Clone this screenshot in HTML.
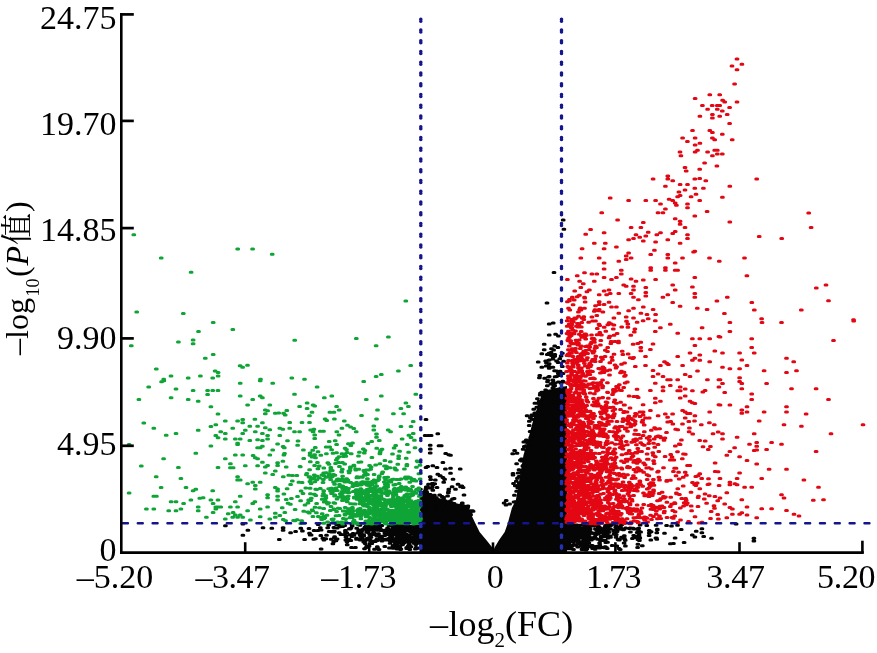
<!DOCTYPE html>
<html><head><meta charset="utf-8"><title>Volcano plot</title>
<style>html,body{margin:0;padding:0;background:#fff;overflow:hidden}svg{display:block}</style></head>
<body><svg width="877" height="653" viewBox="0 0 877 653">
<rect width="877" height="653" fill="#fff"/>
<path d="M493.5 552 L494.3 548 L499.1 540 L504.7 532 L507.9 523 L511.9 508 L515.9 500 L518.5 485 L521 470 L523.5 455 L528 440 L533 421 L538 405 L541.5 395 L548 390 L556 388 L567 386 L567 552Z M419.5 552 L419.5 490 L435 497 L450 502 L462 507 L470 512 L475.2 523 L479.6 532 L486.3 540 L492.7 548 L493.5 552Z" fill="#050505"/>
<g fill="none" stroke-linecap="round" stroke-width="3.0">
<path stroke="#050505" d="M546.1 302.9h1.8M548.3 324.1h1.8M552.3 323.1h1.8M548.3 335.1h1.8M554.7 334.2h1.8M557.5 336.0h1.8M543.3 344.3h1.8M553.8 346.1h1.8M543.3 349.8h1.8M546.4 354.4h1.8M550.1 352.6h1.8M553.8 356.3h1.8M548.3 359.9h1.8M552.0 359.0h1.8M545.5 362.7h1.8M540.9 367.3h1.8M548.3 368.2h1.8M552.0 367.3h1.8M555.6 371.0h1.8M543.7 378.3h1.8M548.3 376.5h1.8M552.0 380.2h1.8M555.6 376.5h1.8M546.4 385.7h1.8M550.1 383.9h1.8M553.8 385.7h1.8M557.5 382.0h1.8M540.9 392.2h1.8M548.3 391.2h1.8M552.0 393.1h1.8M555.6 390.3h1.8M538.2 401.4h1.8M546.4 398.6h1.8M550.1 400.4h1.8M553.8 402.3h1.8M557.5 398.6h1.8M562.3 220.1h1.8M563.0 229.3h1.8M553.1 272.5h1.8M224.5 525.7h1.8M242.0 523.9h1.8M242.0 535.2h1.8M247.0 530.2h1.8M262.1 527.7h1.8M270.9 528.2h1.8M278.4 539.5h1.8M282.2 527.7h1.8M289.7 532.7h1.8M294.7 531.4h1.8M282.2 530.2h1.8M710.6 538.3h1.8M753.0 538.3h1.8M753.0 541.1h1.8M735.2 524.1h1.8M701.0 528.7h1.8M701.0 532.8h1.8M691.4 535.0h1.8M683.2 542.4h1.8M669.5 543.8h1.8M313.2 530.6h1.8M308.1 528.6h1.8M299.9 528.2h1.8M301.5 530.9h1.8M319.4 527.7h1.8M328.3 531.6h1.8M327.8 525.1h1.8M320.2 530.0h1.8M317.3 524.6h1.8M326.8 527.8h1.8M317.0 530.6h1.8M330.0 531.4h1.8M337.2 524.8h1.8M333.2 532.0h1.8M351.3 526.1h1.8M333.5 531.2h1.8M349.0 528.9h1.8M333.0 527.6h1.8M357.5 524.5h1.8M341.7 524.9h1.8M359.0 525.3h1.8M357.7 530.8h1.8M351.1 524.8h1.8M350.0 528.2h1.8M343.8 525.6h1.8M344.5 530.5h1.8M333.0 531.1h1.8M341.7 526.5h1.8M336.3 527.9h1.8M348.5 528.8h1.8M355.8 528.3h1.8M344.5 531.9h1.8M335.6 524.6h1.8M339.0 526.8h1.8M371.6 524.8h1.8M386.7 528.1h1.8M385.5 529.7h1.8M381.0 530.2h1.8M368.1 530.0h1.8M365.3 528.7h1.8M377.0 530.3h1.8M364.1 527.1h1.8M383.8 530.5h1.8M388.4 525.4h1.8M365.4 525.3h1.8M380.8 530.1h1.8M378.5 530.3h1.8M374.6 528.7h1.8M386.7 529.4h1.8M378.8 528.9h1.8M373.9 530.2h1.8M376.3 525.5h1.8M371.9 527.7h1.8M372.1 528.7h1.8M370.0 527.4h1.8M371.9 527.3h1.8M388.3 525.2h1.8M359.6 529.9h1.8M371.0 527.9h1.8M376.9 527.3h1.8M366.3 524.6h1.8M385.3 531.5h1.8M367.7 528.0h1.8M368.8 524.9h1.8M385.9 530.8h1.8M366.3 526.4h1.8M380.0 530.5h1.8M373.2 527.4h1.8M366.1 530.5h1.8M385.0 530.9h1.8M362.5 529.0h1.8M388.7 529.9h1.8M372.9 525.6h1.8M360.9 530.0h1.8M361.2 530.6h1.8M379.1 528.1h1.8M385.8 531.5h1.8M377.6 525.2h1.8M376.8 527.7h1.8M366.6 531.5h1.8M381.0 525.4h1.8M366.0 527.1h1.8M376.3 526.9h1.8M372.3 530.6h1.8M411.4 527.0h1.8M418.4 531.6h1.8M399.3 529.0h1.8M392.5 527.6h1.8M408.4 529.3h1.8M399.7 524.8h1.8M393.0 528.7h1.8M394.4 526.8h1.8M408.3 531.3h1.8M405.1 526.4h1.8M407.3 526.6h1.8M413.4 525.7h1.8M397.2 527.8h1.8M417.3 525.7h1.8M395.1 525.5h1.8M395.7 527.0h1.8M401.3 530.2h1.8M401.6 528.1h1.8M401.4 530.3h1.8M417.1 527.7h1.8M417.7 526.4h1.8M419.4 528.4h1.8M410.2 527.4h1.8M397.5 525.5h1.8M416.5 527.2h1.8M410.8 528.0h1.8M405.4 526.1h1.8M394.6 527.0h1.8M410.2 528.6h1.8M389.2 529.8h1.8M402.5 525.0h1.8M397.2 526.1h1.8M414.6 528.6h1.8M399.2 526.4h1.8M398.1 526.6h1.8M399.8 530.4h1.8M413.5 529.7h1.8M416.5 529.4h1.8M392.6 524.8h1.8M394.2 526.4h1.8M405.5 530.7h1.8M407.3 527.7h1.8M396.6 531.9h1.8M412.5 527.1h1.8M390.5 531.9h1.8M397.0 530.9h1.8M392.7 529.4h1.8M400.1 531.2h1.8M398.3 525.3h1.8M395.3 530.5h1.8M419.4 529.3h1.8M410.2 526.6h1.8M397.5 525.2h1.8M419.6 524.8h1.8M408.1 527.1h1.8M394.9 527.8h1.8M418.0 526.4h1.8M394.2 529.2h1.8M409.5 528.3h1.8M394.7 531.1h1.8M392.5 525.8h1.8M396.6 528.4h1.8M403.9 528.7h1.8M411.6 531.2h1.8M403.6 524.8h1.8M414.9 524.6h1.8M399.0 525.6h1.8M407.8 530.4h1.8M393.1 526.7h1.8M415.5 529.7h1.8M392.5 529.6h1.8M413.7 527.6h1.8M393.9 529.4h1.8M399.0 525.5h1.8M394.2 527.5h1.8M393.0 527.4h1.8M406.2 528.6h1.8M401.6 530.5h1.8M391.8 527.0h1.8M418.0 531.0h1.8M417.6 530.2h1.8M405.7 530.4h1.8M406.8 525.4h1.8M397.0 525.2h1.8M416.2 526.9h1.8M401.7 528.5h1.8M392.2 529.8h1.8M323.0 539.9h1.8M308.6 533.3h1.8M321.9 538.2h1.8M310.2 535.1h1.8M303.7 539.5h1.8M312.9 539.3h1.8M309.3 534.9h1.8M314.5 538.7h1.8M325.6 535.2h1.8M319.9 535.6h1.8M324.9 538.8h1.8M340.0 534.5h1.8M355.6 539.2h1.8M338.3 532.8h1.8M335.0 540.7h1.8M330.3 539.3h1.8M345.0 537.0h1.8M345.3 535.7h1.8M345.8 532.8h1.8M356.7 532.9h1.8M333.3 538.1h1.8M348.3 539.3h1.8M349.9 540.4h1.8M330.7 532.1h1.8M336.2 539.0h1.8M333.7 536.8h1.8M352.2 533.4h1.8M344.9 540.1h1.8M351.5 535.6h1.8M343.5 534.5h1.8M357.9 539.0h1.8M349.5 534.7h1.8M351.1 536.4h1.8M353.0 535.3h1.8M355.5 538.2h1.8M376.0 539.2h1.8M375.0 540.6h1.8M359.3 540.1h1.8M380.5 536.4h1.8M384.6 533.3h1.8M369.2 538.4h1.8M383.8 535.4h1.8M388.9 537.8h1.8M360.5 533.1h1.8M361.4 537.1h1.8M368.8 534.3h1.8M372.5 532.7h1.8M386.4 539.5h1.8M375.9 536.0h1.8M368.4 537.4h1.8M369.5 540.8h1.8M387.8 538.5h1.8M383.9 532.7h1.8M362.8 535.1h1.8M362.9 535.8h1.8M388.7 539.5h1.8M387.9 534.0h1.8M365.8 532.2h1.8M367.3 532.5h1.8M374.9 534.7h1.8M379.3 537.0h1.8M377.0 534.7h1.8M381.1 538.2h1.8M380.5 536.2h1.8M373.0 534.6h1.8M360.3 536.2h1.8M377.6 533.7h1.8M384.9 539.9h1.8M384.7 539.3h1.8M373.8 533.6h1.8M367.2 538.6h1.8M388.6 533.0h1.8M359.3 535.2h1.8M369.6 537.4h1.8M362.5 539.6h1.8M369.2 540.2h1.8M369.0 534.7h1.8M364.4 540.7h1.8M376.8 539.4h1.8M361.0 536.9h1.8M381.1 540.9h1.8M387.2 532.9h1.8M370.3 541.0h1.8M375.1 540.6h1.8M366.7 532.2h1.8M387.5 534.4h1.8M375.9 535.2h1.8M376.4 540.4h1.8M387.5 539.9h1.8M366.8 539.4h1.8M359.7 535.7h1.8M387.4 534.3h1.8M370.1 537.2h1.8M366.2 538.4h1.8M392.0 540.3h1.8M391.3 538.3h1.8M399.9 533.3h1.8M391.5 541.0h1.8M413.9 536.1h1.8M413.7 540.7h1.8M417.8 536.8h1.8M397.6 536.7h1.8M419.5 538.6h1.8M409.9 539.6h1.8M401.8 537.0h1.8M415.4 533.8h1.8M415.7 532.2h1.8M405.7 537.2h1.8M393.6 540.3h1.8M402.7 533.7h1.8M401.9 537.3h1.8M402.4 532.0h1.8M392.0 538.4h1.8M393.2 534.3h1.8M414.1 539.8h1.8M416.4 533.6h1.8M389.3 538.8h1.8M407.7 535.3h1.8M389.7 535.9h1.8M396.5 537.3h1.8M419.5 533.9h1.8M391.4 538.3h1.8M392.4 534.0h1.8M402.7 540.9h1.8M399.2 534.8h1.8M403.8 533.5h1.8M401.6 538.3h1.8M399.1 539.2h1.8M394.8 532.9h1.8M408.5 536.1h1.8M417.6 532.9h1.8M412.2 538.0h1.8M400.6 533.2h1.8M408.1 538.8h1.8M403.8 536.3h1.8M410.4 537.5h1.8M402.2 533.7h1.8M403.5 536.9h1.8M416.9 541.0h1.8M406.4 535.0h1.8M396.0 537.7h1.8M412.0 534.2h1.8M410.5 541.0h1.8M401.2 540.4h1.8M402.6 537.9h1.8M416.0 533.8h1.8M399.8 540.9h1.8M391.1 534.8h1.8M403.9 538.7h1.8M408.6 540.4h1.8M409.9 532.0h1.8M391.3 532.3h1.8M402.5 532.2h1.8M405.4 537.7h1.8M395.4 539.7h1.8M401.9 540.6h1.8M400.2 537.6h1.8M405.9 534.4h1.8M413.3 532.0h1.8M396.8 534.9h1.8M416.4 536.5h1.8M390.2 534.7h1.8M408.0 539.3h1.8M392.5 539.0h1.8M401.2 536.7h1.8M402.2 535.9h1.8M419.8 540.3h1.8M417.6 538.6h1.8M410.8 533.3h1.8M390.2 539.5h1.8M410.0 537.7h1.8M398.8 534.4h1.8M417.6 536.8h1.8M389.7 535.1h1.8M399.9 532.6h1.8M419.4 540.1h1.8M414.4 532.0h1.8M402.0 533.0h1.8M411.6 539.3h1.8M413.6 539.1h1.8M392.8 532.1h1.8M392.0 539.6h1.8M414.8 536.6h1.8M396.4 539.7h1.8M392.8 534.9h1.8M389.2 540.8h1.8M402.0 538.9h1.8M413.9 537.2h1.8M419.7 539.0h1.8M417.8 540.7h1.8M391.6 538.8h1.8M396.1 534.9h1.8M399.7 540.9h1.8M391.0 535.9h1.8M393.1 541.0h1.8M404.5 538.3h1.8M405.2 538.9h1.8M399.5 535.7h1.8M320.2 549.0h1.8M354.5 547.6h1.8M346.3 544.7h1.8M346.1 541.7h1.8M332.0 543.8h1.8M332.8 541.4h1.8M350.6 547.6h1.8M365.3 547.5h1.8M383.9 546.6h1.8M365.9 546.1h1.8M370.9 543.4h1.8M363.6 548.8h1.8M378.1 549.4h1.8M364.3 543.4h1.8M374.4 541.5h1.8M368.2 545.9h1.8M373.6 549.2h1.8M376.4 546.7h1.8M376.7 548.1h1.8M370.1 541.0h1.8M388.5 548.1h1.8M362.9 542.0h1.8M365.8 546.9h1.8M363.0 541.2h1.8M373.9 541.1h1.8M400.9 542.8h1.8M389.2 543.3h1.8M396.7 543.9h1.8M401.9 544.2h1.8M399.1 541.2h1.8M415.1 547.6h1.8M404.4 541.0h1.8M396.3 549.1h1.8M403.3 542.8h1.8M414.5 549.0h1.8M392.9 545.5h1.8M406.5 542.1h1.8M399.0 546.6h1.8M410.0 546.7h1.8M408.3 544.4h1.8M391.2 541.1h1.8M415.1 548.8h1.8M417.2 541.7h1.8M412.9 542.5h1.8M399.8 542.8h1.8M415.8 548.4h1.8M414.9 544.4h1.8M418.1 543.3h1.8M406.9 547.1h1.8M396.3 544.4h1.8M392.2 548.2h1.8M394.8 542.2h1.8M397.7 546.8h1.8M408.9 545.7h1.8M415.6 547.8h1.8M395.6 545.8h1.8M394.4 543.2h1.8M393.7 541.7h1.8M400.0 549.0h1.8M409.4 541.8h1.8M395.9 546.3h1.8M405.5 541.2h1.8M392.0 546.1h1.8M407.7 541.7h1.8M413.1 543.2h1.8M407.4 545.8h1.8M399.6 549.5h1.8M401.4 544.8h1.8M405.8 548.6h1.8M419.7 547.9h1.8M405.8 547.5h1.8M408.9 549.6h1.8M419.2 547.8h1.8M395.8 546.1h1.8M402.7 543.1h1.8M413.3 543.0h1.8M575.8 527.7h1.8M581.5 529.9h1.8M588.8 532.0h1.8M583.9 526.5h1.8M580.5 528.2h1.8M587.6 527.9h1.8M572.4 524.7h1.8M575.3 528.5h1.8M571.1 525.3h1.8M575.7 525.0h1.8M567.6 527.8h1.8M572.2 528.3h1.8M576.9 527.4h1.8M566.6 524.6h1.8M577.6 531.8h1.8M570.4 527.1h1.8M571.4 530.1h1.8M575.9 530.5h1.8M563.2 525.5h1.8M568.5 527.3h1.8M573.5 527.4h1.8M588.2 527.8h1.8M578.1 531.7h1.8M579.8 529.0h1.8M584.6 527.0h1.8M564.0 531.7h1.8M577.0 528.9h1.8M564.8 530.1h1.8M572.8 529.3h1.8M570.5 531.4h1.8M572.7 526.6h1.8M586.3 526.2h1.8M570.1 528.2h1.8M588.6 525.4h1.8M568.6 530.5h1.8M565.1 527.6h1.8M583.5 529.8h1.8M583.7 525.4h1.8M586.2 527.2h1.8M584.3 528.0h1.8M586.3 528.1h1.8M569.8 525.6h1.8M576.0 524.9h1.8M567.4 531.1h1.8M578.0 531.0h1.8M567.0 528.1h1.8M575.3 525.3h1.8M569.9 531.4h1.8M581.9 528.3h1.8M578.9 531.0h1.8M587.9 529.0h1.8M564.4 531.0h1.8M567.4 526.3h1.8M566.7 528.3h1.8M578.2 528.0h1.8M575.3 525.6h1.8M581.8 528.5h1.8M571.1 530.8h1.8M587.5 531.4h1.8M588.7 525.0h1.8M573.2 527.9h1.8M569.8 530.1h1.8M586.6 525.5h1.8M576.3 531.8h1.8M586.2 527.9h1.8M565.8 527.9h1.8M576.6 530.4h1.8M567.9 526.6h1.8M588.7 524.6h1.8M579.0 525.2h1.8M582.6 527.7h1.8M587.2 526.2h1.8M585.9 526.2h1.8M564.3 525.1h1.8M565.1 527.4h1.8M588.4 527.2h1.8M581.7 524.8h1.8M576.5 528.5h1.8M565.6 528.8h1.8M574.7 527.0h1.8M584.7 529.7h1.8M566.2 525.3h1.8M564.5 526.5h1.8M579.7 531.8h1.8M588.3 531.0h1.8M612.9 530.2h1.8M603.3 532.0h1.8M607.1 525.4h1.8M595.6 525.5h1.8M607.4 529.2h1.8M614.8 524.6h1.8M589.4 531.8h1.8M597.0 526.5h1.8M615.1 525.3h1.8M612.9 531.2h1.8M606.0 529.1h1.8M589.3 529.0h1.8M607.5 530.3h1.8M604.6 525.4h1.8M595.8 529.4h1.8M591.5 525.3h1.8M596.6 530.5h1.8M605.5 527.2h1.8M618.0 528.9h1.8M596.3 528.7h1.8M614.8 527.3h1.8M602.1 528.8h1.8M618.7 529.3h1.8M594.5 528.9h1.8M598.7 528.1h1.8M610.5 524.7h1.8M604.3 526.9h1.8M607.1 530.7h1.8M603.1 529.2h1.8M597.8 526.4h1.8M604.4 528.5h1.8M595.8 530.2h1.8M604.1 527.2h1.8M596.7 530.8h1.8M616.2 531.5h1.8M596.5 525.0h1.8M608.0 524.7h1.8M614.8 529.6h1.8M599.2 527.8h1.8M609.6 525.7h1.8M600.0 530.4h1.8M609.5 528.9h1.8M592.2 526.1h1.8M596.8 524.7h1.8M608.3 528.8h1.8M616.8 528.7h1.8M628.5 528.4h1.8M624.7 528.0h1.8M637.8 528.2h1.8M619.1 527.2h1.8M623.1 529.2h1.8M629.3 528.1h1.8M637.6 530.2h1.8M620.8 524.7h1.8M633.1 529.0h1.8M632.1 528.3h1.8M619.8 527.9h1.8M635.8 529.0h1.8M620.0 525.4h1.8M637.2 528.6h1.8M622.4 529.8h1.8M656.4 529.3h1.8M655.2 525.2h1.8M648.4 530.6h1.8M645.9 525.6h1.8M656.4 529.8h1.8M639.2 525.0h1.8M650.2 531.7h1.8M676.6 525.3h1.8M670.6 525.9h1.8M665.7 525.6h1.8M680.3 529.4h1.8M695.3 531.3h1.8M565.1 539.8h1.8M577.2 540.4h1.8M575.9 532.7h1.8M581.4 533.6h1.8M588.7 536.9h1.8M586.6 536.4h1.8M571.6 538.0h1.8M581.6 536.1h1.8M570.3 535.8h1.8M581.7 534.1h1.8M567.2 536.4h1.8M580.2 532.6h1.8M570.2 540.7h1.8M570.0 538.9h1.8M571.0 532.8h1.8M575.7 539.8h1.8M583.3 532.4h1.8M581.4 537.6h1.8M575.6 538.0h1.8M576.7 533.6h1.8M581.2 533.2h1.8M571.2 539.7h1.8M577.9 536.6h1.8M581.6 536.4h1.8M573.1 537.0h1.8M563.7 535.2h1.8M564.1 541.0h1.8M586.7 537.9h1.8M567.2 539.7h1.8M570.5 539.2h1.8M580.0 537.4h1.8M582.4 534.4h1.8M584.8 536.9h1.8M582.8 539.6h1.8M569.7 535.7h1.8M572.5 532.7h1.8M585.9 538.2h1.8M575.8 536.9h1.8M586.0 532.6h1.8M572.4 538.2h1.8M577.0 536.5h1.8M569.8 534.0h1.8M580.5 535.1h1.8M587.5 540.1h1.8M588.3 534.5h1.8M576.5 532.9h1.8M572.4 532.7h1.8M576.1 540.6h1.8M582.9 535.3h1.8M570.3 540.4h1.8M564.5 539.6h1.8M585.4 532.6h1.8M587.8 537.8h1.8M573.2 535.8h1.8M578.9 536.7h1.8M585.7 540.1h1.8M571.6 532.1h1.8M583.3 537.8h1.8M580.1 532.7h1.8M565.1 540.1h1.8M572.6 536.3h1.8M588.4 533.8h1.8M579.6 532.6h1.8M577.7 538.6h1.8M567.2 538.8h1.8M588.3 539.4h1.8M583.7 540.5h1.8M581.7 536.9h1.8M584.5 539.3h1.8M579.5 538.0h1.8M567.7 535.0h1.8M571.6 539.7h1.8M583.4 534.6h1.8M588.9 532.5h1.8M564.7 534.9h1.8M565.1 540.5h1.8M572.4 535.5h1.8M585.3 536.8h1.8M579.5 536.0h1.8M575.1 540.6h1.8M570.3 536.7h1.8M575.5 533.3h1.8M566.9 536.6h1.8M583.9 535.9h1.8M564.6 540.4h1.8M566.7 540.0h1.8M564.3 537.8h1.8M566.9 534.3h1.8M574.1 538.8h1.8M574.4 535.8h1.8M573.6 536.7h1.8M570.4 540.6h1.8M568.1 533.2h1.8M577.4 535.2h1.8M581.9 532.4h1.8M580.7 535.3h1.8M587.2 534.7h1.8M574.4 534.9h1.8M577.0 534.5h1.8M580.5 535.7h1.8M581.5 534.6h1.8M575.0 537.0h1.8M608.7 535.9h1.8M591.7 533.0h1.8M593.5 533.7h1.8M594.6 538.0h1.8M599.3 540.2h1.8M596.1 534.2h1.8M594.6 533.3h1.8M609.6 537.2h1.8M596.6 539.3h1.8M609.4 535.9h1.8M607.3 537.9h1.8M602.3 532.8h1.8M600.0 540.5h1.8M600.3 537.8h1.8M591.8 539.0h1.8M615.0 535.4h1.8M600.3 536.6h1.8M596.7 533.9h1.8M593.0 538.2h1.8M604.4 540.6h1.8M618.0 539.9h1.8M617.4 539.5h1.8M589.8 533.2h1.8M618.4 539.9h1.8M607.6 537.6h1.8M602.2 535.8h1.8M593.5 536.9h1.8M597.3 533.1h1.8M615.2 537.2h1.8M615.4 534.6h1.8M606.4 534.5h1.8M614.0 533.9h1.8M608.5 537.0h1.8M598.9 532.7h1.8M603.7 536.7h1.8M613.6 533.8h1.8M594.7 534.7h1.8M613.2 534.1h1.8M608.1 532.3h1.8M591.6 538.4h1.8M604.0 533.0h1.8M603.3 540.5h1.8M600.8 537.0h1.8M601.7 536.5h1.8M590.4 539.9h1.8M606.5 535.1h1.8M597.6 533.7h1.8M617.1 539.6h1.8M600.5 537.4h1.8M605.7 533.8h1.8M590.1 538.6h1.8M594.0 537.1h1.8M589.6 532.2h1.8M594.0 537.9h1.8M638.9 537.9h1.8M629.5 532.1h1.8M638.3 536.4h1.8M636.3 532.4h1.8M635.8 536.3h1.8M623.4 535.7h1.8M620.6 537.2h1.8M623.5 538.3h1.8M622.6 538.2h1.8M631.5 538.4h1.8M638.1 534.7h1.8M632.8 535.6h1.8M637.0 539.4h1.8M634.4 537.4h1.8M624.3 540.2h1.8M638.5 540.5h1.8M655.5 538.1h1.8M655.9 539.2h1.8M648.2 535.6h1.8M655.0 537.9h1.8M649.9 539.9h1.8M639.7 532.1h1.8M648.4 532.9h1.8M655.9 532.8h1.8M663.6 533.2h1.8M674.2 538.1h1.8M694.0 537.0h1.8M702.8 536.6h1.8M575.1 544.7h1.8M581.0 542.0h1.8M581.1 549.4h1.8M582.9 545.9h1.8M572.3 541.9h1.8M565.5 545.9h1.8M586.0 548.8h1.8M567.9 547.7h1.8M584.1 545.3h1.8M585.4 542.7h1.8M571.8 545.6h1.8M582.0 545.0h1.8M571.0 548.8h1.8M573.3 544.8h1.8M568.9 545.3h1.8M581.5 544.3h1.8M580.3 545.4h1.8M563.4 549.7h1.8M570.6 545.9h1.8M588.0 542.9h1.8M564.8 542.8h1.8M567.1 548.7h1.8M576.5 541.4h1.8M570.2 545.6h1.8M567.6 543.8h1.8M586.6 545.0h1.8M569.2 546.4h1.8M566.0 545.7h1.8M579.9 541.8h1.8M577.4 543.8h1.8M582.5 546.5h1.8M586.7 546.5h1.8M567.9 542.7h1.8M581.4 548.3h1.8M564.7 544.8h1.8M570.5 545.2h1.8M585.8 546.0h1.8M582.4 547.9h1.8M570.3 546.6h1.8M572.9 545.3h1.8M576.9 547.0h1.8M567.5 548.5h1.8M567.3 543.8h1.8M585.2 549.9h1.8M572.6 549.6h1.8M564.1 549.6h1.8M568.3 541.3h1.8M582.9 542.5h1.8M582.7 541.1h1.8M566.3 544.2h1.8M565.3 545.2h1.8M611.3 545.4h1.8M618.1 548.6h1.8M594.2 549.3h1.8M615.9 546.1h1.8M604.9 542.5h1.8M598.7 543.0h1.8M595.0 546.5h1.8M598.8 547.9h1.8M606.3 548.4h1.8M591.7 548.6h1.8M604.3 546.7h1.8M596.3 547.3h1.8M601.3 547.5h1.8M606.6 542.3h1.8M598.1 547.8h1.8M589.6 546.7h1.8M605.5 547.4h1.8M599.0 545.3h1.8M603.4 547.7h1.8M591.3 545.6h1.8M596.9 546.3h1.8M623.2 543.1h1.8M637.0 544.3h1.8M636.7 547.6h1.8M624.5 546.0h1.8M619.3 549.4h1.8M641.4 545.7h1.8M672.5 543.6h1.8M425.1 419.4h1.8M424.3 435.4h1.8M427.6 435.4h1.8M430.2 435.4h1.8M436.9 433.7h1.8M429.3 445.2h1.8M429.3 448.9h1.8M429.3 453.1h1.8M438.1 445.8h1.8M440.3 445.8h1.8M444.8 453.6h1.8M447.9 454.8h1.8M449.6 455.3h1.8M442.0 462.4h1.8M425.1 467.4h1.8M426.8 466.6h1.8M431.9 465.7h1.8M436.1 467.4h1.8M444.5 469.1h1.8M449.6 468.3h1.8M459.3 469.1h1.8M449.6 473.3h1.8M429.3 476.7h1.8M436.9 474.2h1.8M439.4 475.8h1.8M442.0 477.5h1.8M443.7 479.2h1.8M434.4 480.1h1.8M442.8 482.3h1.8M452.1 479.2h1.8M457.1 484.3h1.8M459.7 486.8h1.8M462.2 487.6h1.8M431.9 485.1h1.8M436.1 487.6h1.8M447.9 489.3h1.8M451.2 486.8h1.8M454.6 489.3h1.8M427.6 484.3h1.8M426.0 487.6h1.8M439.1 475.7h1.8M429.8 479.5h1.8M431.4 483.4h1.8M433.8 483.8h1.8M425.4 487.1h1.8M426.9 487.3h1.8M431.1 487.6h1.8M460.9 486.0h1.8M425.1 488.7h1.8M428.5 488.1h1.8M424.5 490.4h1.8M431.9 490.2h1.8M447.7 491.3h1.8M422.2 492.6h1.8M425.9 492.7h1.8M447.4 492.7h1.8M422.4 494.9h1.8M424.5 496.0h1.8M426.4 494.9h1.8M429.3 494.5h1.8M431.4 495.9h1.8M433.5 495.2h1.8M438.8 495.0h1.8M463.1 494.9h1.8M424.5 497.0h1.8M428.6 497.6h1.8M432.0 496.0h1.8M432.7 497.7h1.8M435.4 497.8h1.8M441.1 496.4h1.8M442.6 497.5h1.8M446.7 496.1h1.8M423.1 498.3h1.8M427.8 499.3h1.8M431.3 499.9h1.8M434.3 499.8h1.8M437.9 499.9h1.8M451.6 498.9h1.8M453.2 498.5h1.8M422.1 501.4h1.8M428.1 501.4h1.8M429.6 501.7h1.8M431.9 500.9h1.8M432.9 501.1h1.8M434.7 500.1h1.8M437.5 501.4h1.8M439.8 500.0h1.8M440.1 501.1h1.8M442.6 501.1h1.8M444.2 501.9h1.8M449.4 501.0h1.8M425.2 503.1h1.8M426.8 503.2h1.8M431.5 503.8h1.8M433.2 503.0h1.8M436.7 502.8h1.8M438.4 504.0h1.8M441.6 502.8h1.8M442.9 503.1h1.8M446.1 503.2h1.8M446.2 502.5h1.8M449.4 502.3h1.8M453.2 503.4h1.8M461.4 503.0h1.8M425.4 504.0h1.8M429.0 505.0h1.8M430.6 505.4h1.8M432.2 504.5h1.8M436.7 505.2h1.8M440.0 506.0h1.8M440.5 504.3h1.8M442.7 505.3h1.8M446.2 504.2h1.8M448.4 504.9h1.8M451.6 505.9h1.8M459.3 505.8h1.8M462.4 505.8h1.8M423.3 506.0h1.8M428.1 507.5h1.8M432.8 506.7h1.8M438.5 508.0h1.8M441.0 506.6h1.8M447.8 506.8h1.8M449.7 507.9h1.8M453.8 507.8h1.8M456.9 506.0h1.8M464.1 506.6h1.8M466.8 507.6h1.8M423.1 508.2h1.8M429.2 509.6h1.8M431.1 509.0h1.8M437.7 508.8h1.8M438.9 509.8h1.8M444.8 508.9h1.8M446.2 509.1h1.8M451.9 509.1h1.8M457.6 508.8h1.8M459.8 509.8h1.8M460.5 509.0h1.8M465.1 508.9h1.8M427.6 510.8h1.8M429.2 511.5h1.8M431.5 510.7h1.8M435.4 512.0h1.8M436.1 511.8h1.8M439.4 511.7h1.8M444.1 510.8h1.8M448.9 510.7h1.8M450.9 511.7h1.8M454.1 511.6h1.8M455.4 510.6h1.8M461.1 510.4h1.8M463.8 511.3h1.8M465.4 510.4h1.8M466.8 511.2h1.8M469.2 510.7h1.8M471.6 510.7h1.8M426.2 513.7h1.8M429.3 513.4h1.8M431.9 512.0h1.8M434.9 513.8h1.8M438.1 513.2h1.8M441.2 513.7h1.8M443.8 512.6h1.8M444.2 512.2h1.8M447.2 513.9h1.8M448.7 512.7h1.8M450.8 513.3h1.8M452.2 513.2h1.8M456.2 513.3h1.8M460.0 513.4h1.8M460.9 512.1h1.8M462.8 513.8h1.8M469.3 513.0h1.8M422.9 515.7h1.8M424.9 515.4h1.8M429.0 514.8h1.8M430.8 515.6h1.8M433.1 514.6h1.8M435.6 514.2h1.8M436.5 515.3h1.8M438.5 514.5h1.8M440.8 515.8h1.8M447.0 514.4h1.8M450.0 514.2h1.8M450.5 515.7h1.8M453.1 514.1h1.8M455.1 515.6h1.8M457.6 514.5h1.8M459.3 514.1h1.8M463.1 514.7h1.8M465.2 515.5h1.8M466.3 515.4h1.8M469.7 514.8h1.8M540.9 353.8h1.8M550.6 355.6h1.8M550.6 348.8h1.8M548.1 353.2h1.8M552.3 357.2h1.8M557.0 347.4h1.8M561.5 353.3h1.8M560.2 356.1h1.8M558.9 358.7h1.8M552.7 350.0h1.8M553.9 354.5h1.8M537.3 362.0h1.8M548.4 366.8h1.8M547.8 360.2h1.8M548.3 363.8h1.8M544.8 360.9h1.8M545.3 366.0h1.8M557.2 362.5h1.8M560.2 373.1h1.8M555.7 361.1h1.8M562.7 361.3h1.8M559.2 371.3h1.8M557.4 373.4h1.8M553.7 370.8h1.8M562.1 373.5h1.8M561.4 366.5h1.8M557.7 372.7h1.8M538.9 375.6h1.8M538.5 377.7h1.8M546.6 381.7h1.8M551.9 388.1h1.8M547.6 377.0h1.8M547.0 380.5h1.8M551.7 383.0h1.8M551.9 380.1h1.8M544.5 392.1h1.8M544.7 390.0h1.8M555.2 390.8h1.8M556.8 393.7h1.8M558.2 392.9h1.8M562.3 382.1h1.8M559.7 388.8h1.8M559.3 375.4h1.8M559.7 389.5h1.8M554.2 376.8h1.8M552.8 385.3h1.8M553.3 391.1h1.8M556.7 393.9h1.8M560.2 383.1h1.8M554.1 383.1h1.8M558.8 391.4h1.8M561.9 381.2h1.8M552.4 387.6h1.8M543.1 393.3h1.8M539.5 393.3h1.8M536.5 398.7h1.8M534.0 403.3h1.8M533.9 413.1h1.8M532.6 415.8h1.8M530.9 415.0h1.8M526.2 415.7h1.8M529.5 417.7h1.8M528.4 421.3h1.8M525.4 440.1h1.8M522.9 442.0h1.8M522.2 449.3h1.8M513.7 450.4h1.8M516.1 453.2h1.8M511.8 453.8h1.8M520.6 459.1h1.8M519.4 460.2h1.8M515.7 463.8h1.8M512.1 473.5h1.8M512.1 475.1h1.8M518.1 476.5h1.8M516.5 478.2h1.8M515.4 481.2h1.8M512.6 483.6h1.8M516.9 485.4h1.8M514.4 485.7h1.8M513.5 495.3h1.8M514.3 501.7h1.8M505.3 500.5h1.8M503.2 502.9h1.8M508.7 504.0h1.8M505.1 504.9h1.8M528.3 425.6h1.8M516.9 487.7h1.8M526.5 442.6h1.8M521.9 466.0h1.8M522.2 465.6h1.8M537.2 413.3h1.8M531.2 419.2h1.8M537.3 403.3h1.8M539.5 402.9h1.8M520.7 470.4h1.8M533.7 415.8h1.8M539.3 394.9h1.8M532.0 433.3h1.8M518.1 469.7h1.8M531.6 447.0h1.8M526.8 450.5h1.8M525.3 445.7h1.8M524.8 441.0h1.8M532.8 409.2h1.8M520.9 473.3h1.8M518.3 482.9h1.8M535.4 416.4h1.8M520.8 461.0h1.8M530.0 437.2h1.8M538.5 414.3h1.8M541.2 404.7h1.8M532.6 428.9h1.8M529.4 442.7h1.8M529.2 431.4h1.8M538.8 404.6h1.8M522.2 476.0h1.8M519.3 484.4h1.8M517.3 473.0h1.8M532.7 419.5h1.8M513.1 502.1h1.8M521.4 471.1h1.8M523.4 446.5h1.8M525.6 449.9h1.8M515.7 491.2h1.8M535.9 407.2h1.8M425.6 491.6h1.8M444.7 500.9h1.8M458.9 505.2h1.8M433.2 497.6h1.8M456.1 506.3h1.8M442.7 498.7h1.8M465.0 508.1h1.8M465.9 508.8h1.8M464.1 509.6h1.8M452.8 507.2h1.8M463.1 508.2h1.8M448.4 503.7h1.8M455.7 505.0h1.8M439.7 500.0h1.8M449.4 503.2h1.8M451.1 503.0h1.8M472.2 511.3h1.8M459.2 507.6h1.8M438.8 500.5h1.8M419.5 489.2h1.8M442.0 501.4h1.8M467.0 506.1h1.8M461.4 508.9h1.8M463.9 508.8h1.8M441.3 501.5h1.8"/>
<path stroke="#0ea536" d="M132.9 234.7h1.8M160.3 258.0h1.8M190.2 272.2h1.8M236.8 248.9h1.8M251.7 248.9h1.8M271.3 254.3h1.8M135.8 311.9h1.8M182.4 313.4h1.8M212.3 322.5h1.8M231.9 329.6h1.8M197.6 331.5h1.8M130.4 345.7h1.8M177.5 342.1h1.8M192.2 340.1h1.8M192.2 343.8h1.8M212.3 354.6h1.8M204.4 358.2h1.8M155.4 369.0h1.8M239.2 365.8h1.8M241.7 367.3h1.8M246.6 365.3h1.8M214.2 371.0h1.8M217.2 372.5h1.8M217.2 375.9h1.8M170.1 376.1h1.8M187.3 378.1h1.8M199.5 376.1h1.8M211.8 378.1h1.8M162.8 379.3h1.8M259.6 379.3h1.8M404.9 300.9h1.8M293.8 340.3h1.8M355.4 338.6h1.8M375.2 345.7h1.8M387.5 336.9h1.8M409.8 365.6h1.8M397.5 371.0h1.8M380.4 374.4h1.8M375.2 376.4h1.8M290.9 378.1h1.8M303.6 379.3h1.8M160.7 381.8h1.8M162.9 380.7h1.8M147.8 387.1h1.8M175.1 388.9h1.8M192.2 390.4h1.8M138.0 399.6h1.8M170.2 397.8h1.8M187.3 399.6h1.8M197.3 401.3h1.8M142.9 422.9h1.8M152.9 428.2h1.8M165.3 435.3h1.8M175.1 433.6h1.8M197.3 430.2h1.8M128.2 444.4h1.8M194.9 453.3h1.8M162.7 458.7h1.8M140.4 466.0h1.8M177.5 467.6h1.8M155.3 476.7h1.8M180.0 478.4h1.8M160.2 487.6h1.8M185.1 487.6h1.8M128.2 492.9h1.8M152.9 496.2h1.8M155.5 496.2h1.8M192.2 490.7h1.8M194.9 489.3h1.8M190.0 500.0h1.8M198.9 498.2h1.8M170.2 501.8h1.8M175.1 501.8h1.8M182.7 503.6h1.8M145.5 508.9h1.8M152.9 508.9h1.8M167.8 510.7h1.8M175.1 510.7h1.8M180.0 508.9h1.8M197.3 507.1h1.8M197.3 510.7h1.8M239.3 383.3h1.8M259.3 380.7h1.8M271.8 383.3h1.8M206.7 390.4h1.8M211.8 390.4h1.8M217.1 390.4h1.8M206.7 394.4h1.8M239.3 396.0h1.8M259.3 396.0h1.8M261.5 397.8h1.8M251.8 399.6h1.8M246.7 404.9h1.8M268.9 404.9h1.8M210.0 406.7h1.8M264.4 410.0h1.8M266.7 410.7h1.8M264.4 413.8h1.8M274.4 413.3h1.8M277.8 412.9h1.8M217.1 414.0h1.8M224.4 421.1h1.8M236.7 421.1h1.8M241.8 419.6h1.8M241.8 422.7h1.8M254.0 419.3h1.8M261.5 422.7h1.8M210.0 426.4h1.8M214.9 424.7h1.8M231.8 428.2h1.8M248.9 426.2h1.8M256.7 426.2h1.8M264.4 427.8h1.8M268.9 429.8h1.8M278.9 428.2h1.8M214.9 435.6h1.8M217.1 437.8h1.8M219.8 431.8h1.8M224.4 433.6h1.8M224.4 438.9h1.8M241.8 433.6h1.8M244.4 430.2h1.8M254.4 431.8h1.8M261.5 433.6h1.8M266.7 435.6h1.8M234.4 438.9h1.8M239.3 438.9h1.8M236.7 443.3h1.8M236.7 444.4h1.8M248.9 440.4h1.8M256.7 439.8h1.8M261.5 440.4h1.8M266.7 438.9h1.8M278.9 435.6h1.8M276.7 444.0h1.8M261.5 446.2h1.8M259.3 447.8h1.8M256.7 447.8h1.8M210.0 446.0h1.8M271.8 450.0h1.8M234.4 455.1h1.8M241.8 455.1h1.8M268.9 455.1h1.8M224.4 458.7h1.8M252.2 455.6h1.8M254.4 457.8h1.8M256.7 458.7h1.8M229.5 463.8h1.8M229.5 467.8h1.8M232.2 467.8h1.8M217.1 467.6h1.8M244.4 465.8h1.8M256.7 465.8h1.8M261.5 462.2h1.8M264.4 467.1h1.8M266.7 465.6h1.8M276.7 462.7h1.8M276.7 465.6h1.8M274.4 471.1h1.8M271.8 474.4h1.8M264.4 472.9h1.8M236.7 476.7h1.8M236.7 480.0h1.8M239.3 480.0h1.8M246.7 483.8h1.8M251.8 482.2h1.8M259.3 482.2h1.8M254.4 485.6h1.8M254.4 488.9h1.8M274.4 487.6h1.8M276.7 488.9h1.8M211.8 490.7h1.8M276.7 491.1h1.8M202.2 497.8h1.8M239.3 496.2h1.8M266.7 494.7h1.8M266.7 497.8h1.8M276.7 496.2h1.8M276.7 500.0h1.8M210.0 500.0h1.8M212.2 503.6h1.8M217.1 500.0h1.8M234.4 501.8h1.8M254.0 501.8h1.8M251.8 503.6h1.8M214.9 507.1h1.8M217.1 507.1h1.8M219.8 507.1h1.8M214.9 508.9h1.8M212.2 512.4h1.8M229.5 507.1h1.8M236.7 507.1h1.8M232.2 512.4h1.8M227.3 513.8h1.8M234.4 515.1h1.8M239.3 515.1h1.8M241.8 517.3h1.8M246.7 510.7h1.8M259.3 508.9h1.8M266.7 507.1h1.8M205.5 517.3h1.8M224.4 518.9h1.8M231.8 517.3h1.8M236.7 517.3h1.8M249.5 520.0h1.8M259.3 516.7h1.8M268.9 518.9h1.8M274.4 513.3h1.8M274.4 517.3h1.8M278.9 515.6h1.8M316.2 387.0h1.8M293.6 394.2h1.8M323.4 397.8h1.8M330.9 395.9h1.8M362.8 381.5h1.8M365.4 399.4h1.8M380.4 395.9h1.8M414.9 394.2h1.8M306.2 403.1h1.8M298.7 406.6h1.8M312.2 405.0h1.8M313.8 406.1h1.8M306.2 408.5h1.8M335.7 406.4h1.8M338.3 410.1h1.8M329.0 412.2h1.8M333.0 412.2h1.8M285.9 410.4h1.8M282.7 413.3h1.8M284.3 414.9h1.8M311.1 412.2h1.8M308.6 415.7h1.8M376.6 410.1h1.8M405.0 403.1h1.8M407.5 406.6h1.8M400.0 408.5h1.8M360.6 415.5h1.8M392.5 413.8h1.8M402.7 413.8h1.8M324.2 419.1h1.8M325.8 420.5h1.8M333.5 419.1h1.8M288.8 422.6h1.8M301.1 422.6h1.8M308.6 422.6h1.8M343.4 421.0h1.8M375.6 419.1h1.8M412.3 421.6h1.8M346.6 425.3h1.8M349.7 426.9h1.8M352.9 428.5h1.8M355.3 431.7h1.8M341.0 428.2h1.8M335.9 431.7h1.8M338.1 435.0h1.8M281.9 429.3h1.8M288.8 428.2h1.8M293.6 431.7h1.8M298.7 431.7h1.8M309.8 430.1h1.8M313.0 429.3h1.8M312.2 431.7h1.8M313.8 434.9h1.8M319.4 431.2h1.8M322.6 431.2h1.8M313.8 438.5h1.8M372.9 426.1h1.8M372.9 430.1h1.8M375.6 434.1h1.8M375.6 437.3h1.8M387.3 430.1h1.8M389.7 431.7h1.8M400.0 426.4h1.8M410.1 426.4h1.8M408.0 435.3h1.8M410.1 437.6h1.8M412.3 433.4h1.8M401.2 438.9h1.8M283.4 447.8h1.8M282.2 446.4h1.8M286.6 440.7h1.8M296.7 445.2h1.8M297.1 441.1h1.8M302.5 449.9h1.8M314.4 447.5h1.8M325.3 446.9h1.8M317.1 451.7h1.8M311.8 450.3h1.8M328.3 441.4h1.8M330.7 449.8h1.8M328.8 447.0h1.8M335.7 444.5h1.8M334.3 440.8h1.8M344.2 448.2h1.8M347.5 443.8h1.8M349.9 445.4h1.8M345.6 449.5h1.8M351.6 442.9h1.8M364.0 450.5h1.8M367.0 443.5h1.8M370.8 441.4h1.8M362.4 449.1h1.8M378.4 440.5h1.8M381.1 449.2h1.8M379.7 450.5h1.8M375.8 448.3h1.8M394.8 445.5h1.8M398.7 451.3h1.8M393.2 448.0h1.8M414.1 447.8h1.8M419.5 449.9h1.8M406.4 444.6h1.8M413.5 440.3h1.8M283.6 453.4h1.8M282.0 461.2h1.8M283.0 455.0h1.8M309.2 453.0h1.8M302.8 458.6h1.8M309.4 461.8h1.8M309.1 455.3h1.8M316.5 462.6h1.8M325.5 453.8h1.8M313.7 454.8h1.8M314.6 457.8h1.8M319.9 455.2h1.8M311.2 457.0h1.8M334.6 463.4h1.8M336.5 458.2h1.8M335.4 460.1h1.8M326.9 462.8h1.8M337.8 462.5h1.8M338.1 456.7h1.8M332.1 453.2h1.8M335.6 452.7h1.8M344.2 453.9h1.8M346.2 452.6h1.8M341.1 453.8h1.8M342.6 456.4h1.8M341.5 462.5h1.8M350.3 453.8h1.8M344.9 456.2h1.8M357.9 462.2h1.8M371.0 457.6h1.8M363.4 453.0h1.8M357.6 456.1h1.8M360.1 461.9h1.8M358.5 452.3h1.8M379.0 453.8h1.8M379.2 452.3h1.8M379.0 463.7h1.8M384.0 460.4h1.8M391.6 454.0h1.8M397.7 458.4h1.8M397.8 456.0h1.8M389.4 461.7h1.8M416.9 461.7h1.8M416.2 460.9h1.8M405.3 458.2h1.8M407.7 452.3h1.8M285.3 467.1h1.8M291.5 475.5h1.8M287.8 475.2h1.8M295.9 475.5h1.8M299.4 466.7h1.8M299.1 466.5h1.8M305.5 474.8h1.8M308.7 469.8h1.8M305.9 473.6h1.8M321.0 474.9h1.8M322.8 473.0h1.8M318.3 466.1h1.8M322.9 468.0h1.8M323.1 475.7h1.8M317.0 468.8h1.8M325.3 472.7h1.8M313.7 465.5h1.8M313.4 474.9h1.8M328.3 473.9h1.8M340.8 471.9h1.8M331.4 470.6h1.8M328.1 464.2h1.8M340.7 471.8h1.8M334.0 475.2h1.8M332.6 474.5h1.8M338.5 466.5h1.8M329.9 467.5h1.8M329.7 471.0h1.8M330.0 469.0h1.8M328.1 474.9h1.8M348.0 471.0h1.8M354.7 469.0h1.8M354.9 470.0h1.8M349.1 470.3h1.8M341.4 469.3h1.8M343.8 464.0h1.8M353.1 466.1h1.8M348.2 472.7h1.8M349.4 467.9h1.8M348.9 470.7h1.8M352.9 465.3h1.8M349.5 467.0h1.8M367.7 470.1h1.8M364.5 473.1h1.8M369.8 469.3h1.8M365.3 470.1h1.8M363.8 472.3h1.8M362.9 470.4h1.8M363.3 475.3h1.8M366.6 474.5h1.8M370.2 467.1h1.8M364.5 475.3h1.8M368.7 465.6h1.8M357.9 469.3h1.8M374.7 464.9h1.8M381.1 473.4h1.8M384.6 465.9h1.8M381.8 471.9h1.8M373.2 474.6h1.8M385.6 466.6h1.8M385.4 468.8h1.8M378.4 475.9h1.8M383.6 465.9h1.8M393.8 468.1h1.8M389.0 467.8h1.8M396.9 464.2h1.8M394.4 469.3h1.8M386.4 468.0h1.8M395.5 470.1h1.8M419.3 473.5h1.8M419.1 465.3h1.8M406.0 464.5h1.8M415.5 467.2h1.8M403.5 469.1h1.8M418.0 473.8h1.8M405.9 465.8h1.8M289.7 484.4h1.8M282.4 476.7h1.8M291.4 481.1h1.8M310.2 483.6h1.8M308.1 477.0h1.8M308.9 476.8h1.8M309.0 481.4h1.8M301.2 482.6h1.8M310.0 479.2h1.8M298.0 482.3h1.8M312.7 477.9h1.8M311.9 478.4h1.8M315.8 479.7h1.8M322.5 479.5h1.8M318.6 478.1h1.8M316.3 476.2h1.8M314.9 476.2h1.8M322.1 482.6h1.8M313.9 481.7h1.8M325.1 477.3h1.8M332.6 481.9h1.8M338.6 480.7h1.8M333.7 484.3h1.8M340.8 480.1h1.8M338.6 484.5h1.8M335.6 480.9h1.8M331.3 476.7h1.8M328.0 476.8h1.8M337.2 479.1h1.8M328.5 477.0h1.8M338.7 486.4h1.8M336.2 479.4h1.8M329.7 479.5h1.8M343.5 481.3h1.8M345.0 487.5h1.8M355.7 482.6h1.8M344.8 487.6h1.8M345.7 480.3h1.8M341.1 480.6h1.8M348.2 482.0h1.8M344.1 482.1h1.8M341.2 479.2h1.8M342.4 480.8h1.8M341.7 476.3h1.8M345.7 478.8h1.8M349.9 482.4h1.8M352.4 483.9h1.8M351.8 486.5h1.8M346.9 479.9h1.8M355.9 477.8h1.8M352.0 483.7h1.8M341.8 486.0h1.8M354.5 483.5h1.8M352.1 485.7h1.8M364.0 482.1h1.8M368.6 485.7h1.8M368.5 483.0h1.8M369.5 484.2h1.8M366.5 478.8h1.8M356.6 477.6h1.8M361.5 477.3h1.8M368.6 482.7h1.8M365.5 483.5h1.8M366.3 481.9h1.8M356.1 485.6h1.8M367.3 482.0h1.8M364.1 483.9h1.8M357.1 484.8h1.8M359.9 476.9h1.8M360.1 484.8h1.8M359.2 484.9h1.8M370.7 481.9h1.8M361.8 481.7h1.8M366.4 485.2h1.8M365.4 483.7h1.8M357.3 477.8h1.8M359.9 484.9h1.8M360.7 482.8h1.8M356.3 476.7h1.8M360.1 484.1h1.8M366.5 484.1h1.8M360.5 482.2h1.8M378.1 477.4h1.8M384.5 478.4h1.8M385.8 487.2h1.8M371.4 481.5h1.8M383.4 487.6h1.8M377.8 479.2h1.8M374.2 487.3h1.8M374.3 483.0h1.8M373.2 482.3h1.8M385.4 477.6h1.8M383.4 482.1h1.8M384.4 484.4h1.8M374.6 486.8h1.8M378.4 476.3h1.8M371.2 481.9h1.8M377.9 479.6h1.8M373.2 480.1h1.8M375.8 486.1h1.8M371.1 485.0h1.8M383.7 477.4h1.8M385.0 484.6h1.8M384.6 479.5h1.8M376.7 480.7h1.8M386.1 483.1h1.8M392.5 479.3h1.8M386.8 477.2h1.8M398.6 479.4h1.8M400.1 479.0h1.8M390.1 482.1h1.8M388.9 480.5h1.8M400.4 486.6h1.8M398.3 483.6h1.8M399.8 487.3h1.8M394.3 484.6h1.8M386.8 484.8h1.8M392.9 485.0h1.8M395.8 479.4h1.8M386.8 487.1h1.8M388.0 481.7h1.8M391.3 479.6h1.8M419.2 479.1h1.8M413.2 479.6h1.8M411.4 480.7h1.8M404.2 477.9h1.8M404.9 486.9h1.8M410.3 478.6h1.8M417.9 488.0h1.8M409.4 477.7h1.8M404.7 477.1h1.8M407.4 477.1h1.8M405.5 479.1h1.8M411.6 486.6h1.8M415.0 481.0h1.8M408.8 482.3h1.8M286.2 488.7h1.8M285.3 499.6h1.8M283.0 494.0h1.8M290.5 498.4h1.8M300.2 491.0h1.8M302.1 493.4h1.8M310.4 498.2h1.8M309.2 488.3h1.8M296.6 496.5h1.8M309.5 493.7h1.8M304.9 488.0h1.8M325.0 497.9h1.8M323.9 499.7h1.8M314.8 489.3h1.8M313.4 494.3h1.8M321.3 499.3h1.8M321.9 495.8h1.8M322.6 493.5h1.8M319.4 488.5h1.8M322.8 490.8h1.8M324.9 495.7h1.8M315.7 489.5h1.8M314.9 495.6h1.8M327.8 488.8h1.8M334.0 495.0h1.8M331.9 490.7h1.8M335.1 488.1h1.8M330.6 493.5h1.8M340.5 495.7h1.8M339.4 493.7h1.8M329.6 491.0h1.8M340.5 496.5h1.8M330.7 488.3h1.8M333.6 496.1h1.8M332.4 491.1h1.8M336.1 499.1h1.8M329.5 488.4h1.8M331.2 493.0h1.8M336.3 490.4h1.8M338.1 496.9h1.8M333.7 490.5h1.8M345.8 497.8h1.8M344.6 490.7h1.8M352.5 491.5h1.8M355.4 493.9h1.8M343.9 490.7h1.8M347.4 496.0h1.8M355.3 489.8h1.8M347.0 490.6h1.8M355.7 489.7h1.8M341.9 488.7h1.8M347.0 498.8h1.8M354.4 496.8h1.8M356.1 499.2h1.8M346.0 490.2h1.8M355.1 497.0h1.8M341.6 496.0h1.8M346.8 492.5h1.8M346.1 490.0h1.8M341.1 491.4h1.8M346.4 499.5h1.8M343.0 499.6h1.8M344.2 492.3h1.8M353.4 497.9h1.8M347.6 488.6h1.8M348.2 492.5h1.8M354.9 490.3h1.8M346.6 498.8h1.8M341.6 492.9h1.8M353.3 497.2h1.8M341.7 488.4h1.8M342.0 499.0h1.8M345.0 497.0h1.8M361.2 491.3h1.8M370.5 495.4h1.8M360.0 496.6h1.8M360.8 491.3h1.8M356.2 497.1h1.8M369.8 495.6h1.8M370.2 488.3h1.8M359.6 493.7h1.8M370.5 499.4h1.8M361.9 491.0h1.8M362.5 493.9h1.8M370.0 490.2h1.8M368.1 496.9h1.8M368.4 497.3h1.8M365.2 491.9h1.8M360.9 492.3h1.8M367.8 488.9h1.8M359.1 497.0h1.8M359.8 488.8h1.8M356.6 494.6h1.8M361.0 499.8h1.8M369.4 499.9h1.8M360.1 489.0h1.8M357.5 494.0h1.8M366.7 493.4h1.8M359.6 493.0h1.8M365.4 496.1h1.8M367.3 498.2h1.8M366.1 489.5h1.8M368.7 491.5h1.8M364.6 492.5h1.8M367.2 490.4h1.8M359.8 490.9h1.8M358.4 498.6h1.8M364.8 491.9h1.8M362.0 499.9h1.8M363.7 490.8h1.8M368.2 495.8h1.8M371.0 489.2h1.8M363.2 497.8h1.8M368.7 499.0h1.8M356.7 491.5h1.8M357.9 490.3h1.8M379.8 499.2h1.8M376.7 498.4h1.8M377.8 491.1h1.8M382.8 499.3h1.8M372.7 495.2h1.8M380.4 490.6h1.8M376.6 489.7h1.8M374.2 491.1h1.8M380.1 495.8h1.8M374.2 488.1h1.8M376.0 496.1h1.8M373.9 491.7h1.8M374.2 497.5h1.8M379.3 488.8h1.8M372.6 492.7h1.8M379.4 495.7h1.8M372.5 490.0h1.8M381.5 492.9h1.8M375.3 491.7h1.8M385.4 491.7h1.8M379.6 492.3h1.8M377.3 498.4h1.8M386.0 492.4h1.8M374.1 496.7h1.8M374.2 488.1h1.8M384.6 493.1h1.8M383.4 492.9h1.8M384.3 493.5h1.8M373.5 488.2h1.8M379.4 495.7h1.8M384.7 489.1h1.8M380.4 492.5h1.8M378.7 489.8h1.8M375.3 494.3h1.8M385.0 489.3h1.8M378.5 497.7h1.8M385.6 490.4h1.8M373.0 499.3h1.8M385.7 493.8h1.8M371.9 499.1h1.8M376.9 498.9h1.8M380.4 497.9h1.8M373.5 497.4h1.8M392.2 498.2h1.8M398.5 490.2h1.8M389.4 492.8h1.8M393.9 492.6h1.8M387.9 491.0h1.8M397.0 498.8h1.8M386.7 494.7h1.8M397.5 488.5h1.8M398.7 489.4h1.8M395.1 494.6h1.8M395.5 491.7h1.8M392.4 495.0h1.8M392.5 495.9h1.8M392.8 493.3h1.8M386.5 495.4h1.8M393.4 490.8h1.8M397.6 497.4h1.8M393.0 490.2h1.8M393.2 489.3h1.8M388.0 493.2h1.8M387.5 493.3h1.8M393.8 488.5h1.8M395.6 489.0h1.8M397.1 497.3h1.8M393.8 488.7h1.8M393.7 492.5h1.8M400.4 489.6h1.8M399.0 500.0h1.8M397.1 497.8h1.8M389.0 499.8h1.8M393.5 499.5h1.8M399.8 490.0h1.8M397.9 499.2h1.8M387.1 492.2h1.8M397.4 489.9h1.8M399.5 491.3h1.8M398.3 489.7h1.8M418.1 490.5h1.8M406.0 494.1h1.8M407.0 488.4h1.8M404.5 489.9h1.8M418.4 496.2h1.8M417.7 490.0h1.8M415.6 489.4h1.8M410.9 495.6h1.8M407.8 498.5h1.8M411.4 495.0h1.8M417.4 489.3h1.8M419.5 495.6h1.8M408.4 497.6h1.8M406.0 499.9h1.8M411.8 492.3h1.8M415.2 493.3h1.8M404.4 496.9h1.8M402.0 497.8h1.8M405.8 495.7h1.8M419.3 495.0h1.8M413.4 491.8h1.8M401.1 488.4h1.8M403.9 495.4h1.8M409.1 494.2h1.8M417.7 489.6h1.8M405.3 495.8h1.8M401.5 488.0h1.8M407.7 489.3h1.8M407.7 490.7h1.8M411.9 495.1h1.8M404.9 495.5h1.8M409.9 489.6h1.8M418.4 490.9h1.8M403.9 489.1h1.8M294.2 509.4h1.8M287.1 503.2h1.8M281.3 507.7h1.8M289.5 504.2h1.8M302.8 511.2h1.8M307.1 503.0h1.8M309.7 500.5h1.8M304.1 504.9h1.8M299.7 500.7h1.8M307.8 500.1h1.8M325.2 501.7h1.8M314.1 507.3h1.8M318.7 507.7h1.8M323.3 502.1h1.8M315.7 503.6h1.8M311.8 510.7h1.8M322.8 508.6h1.8M311.2 510.1h1.8M333.1 508.9h1.8M332.9 502.7h1.8M327.7 502.8h1.8M326.7 504.0h1.8M337.3 508.3h1.8M338.8 508.5h1.8M330.1 506.6h1.8M332.6 509.5h1.8M333.9 503.2h1.8M335.7 511.6h1.8M329.4 510.6h1.8M326.3 503.1h1.8M352.3 511.3h1.8M352.3 503.9h1.8M354.3 503.9h1.8M344.7 510.9h1.8M350.6 508.3h1.8M351.1 511.7h1.8M348.1 510.1h1.8M351.6 510.3h1.8M347.7 508.7h1.8M349.7 503.7h1.8M344.3 507.5h1.8M342.3 510.9h1.8M343.3 500.3h1.8M342.7 511.1h1.8M346.3 501.7h1.8M341.5 500.5h1.8M351.5 507.6h1.8M351.6 508.8h1.8M365.0 504.4h1.8M368.4 509.8h1.8M369.5 500.8h1.8M369.1 511.0h1.8M370.3 501.3h1.8M359.2 501.3h1.8M356.6 510.2h1.8M368.3 507.6h1.8M368.5 507.6h1.8M360.4 501.2h1.8M357.6 509.1h1.8M359.2 503.8h1.8M362.5 500.3h1.8M360.0 503.4h1.8M366.8 504.4h1.8M360.9 511.6h1.8M363.7 510.2h1.8M365.4 500.4h1.8M362.3 505.2h1.8M367.7 504.2h1.8M366.7 506.5h1.8M359.3 510.3h1.8M357.5 509.8h1.8M358.7 500.0h1.8M359.1 509.1h1.8M370.8 500.1h1.8M363.5 505.9h1.8M368.1 502.2h1.8M363.5 504.2h1.8M368.6 503.1h1.8M370.3 503.4h1.8M359.3 508.4h1.8M363.6 501.3h1.8M372.3 509.5h1.8M381.6 509.4h1.8M380.5 504.3h1.8M377.1 504.7h1.8M384.5 501.0h1.8M384.4 500.3h1.8M374.2 503.2h1.8M384.6 506.0h1.8M376.8 510.6h1.8M374.6 505.5h1.8M379.1 509.1h1.8M382.4 507.8h1.8M376.3 503.9h1.8M373.4 510.1h1.8M381.0 508.9h1.8M373.6 505.3h1.8M382.7 507.0h1.8M373.0 505.5h1.8M384.4 502.9h1.8M374.0 503.6h1.8M381.6 510.1h1.8M373.4 501.9h1.8M374.8 503.9h1.8M378.9 501.9h1.8M376.0 502.3h1.8M385.7 508.7h1.8M372.6 511.5h1.8M372.6 504.6h1.8M385.9 509.5h1.8M382.1 505.2h1.8M374.0 507.7h1.8M372.7 502.5h1.8M376.9 500.4h1.8M377.1 509.5h1.8M381.5 506.0h1.8M380.6 505.6h1.8M373.2 507.2h1.8M377.2 508.9h1.8M384.7 505.2h1.8M379.7 509.0h1.8M377.4 502.7h1.8M381.9 510.6h1.8M382.7 508.4h1.8M383.9 508.2h1.8M380.7 505.4h1.8M375.8 507.5h1.8M372.6 505.0h1.8M382.8 508.6h1.8M380.5 503.0h1.8M377.5 505.5h1.8M380.4 504.9h1.8M400.1 502.2h1.8M395.9 509.3h1.8M391.9 505.9h1.8M400.7 500.5h1.8M394.3 501.9h1.8M397.8 511.3h1.8M393.9 501.2h1.8M394.7 506.5h1.8M396.9 506.1h1.8M395.7 509.9h1.8M393.9 504.9h1.8M400.3 502.5h1.8M396.4 504.7h1.8M397.5 501.5h1.8M400.9 504.3h1.8M386.9 503.3h1.8M392.1 500.2h1.8M392.4 505.0h1.8M396.6 504.2h1.8M390.1 502.7h1.8M397.2 511.3h1.8M394.0 502.6h1.8M398.1 504.7h1.8M389.3 501.6h1.8M397.7 509.7h1.8M395.6 505.6h1.8M394.5 502.7h1.8M400.6 504.2h1.8M395.7 509.8h1.8M398.3 505.6h1.8M390.5 506.6h1.8M388.0 510.0h1.8M391.4 510.2h1.8M390.1 504.5h1.8M389.9 505.1h1.8M388.9 500.0h1.8M396.9 503.4h1.8M389.8 503.6h1.8M393.3 505.1h1.8M395.7 507.9h1.8M391.5 511.1h1.8M398.9 500.7h1.8M398.5 510.9h1.8M397.9 501.7h1.8M398.6 507.6h1.8M386.3 500.1h1.8M400.4 507.9h1.8M389.9 501.2h1.8M388.2 502.8h1.8M397.7 504.2h1.8M388.4 510.8h1.8M398.0 502.0h1.8M399.5 507.3h1.8M397.8 508.0h1.8M399.5 509.5h1.8M404.8 508.3h1.8M410.9 508.9h1.8M409.2 510.6h1.8M411.4 503.2h1.8M405.4 501.7h1.8M410.2 500.7h1.8M409.7 501.7h1.8M410.2 506.0h1.8M411.1 510.4h1.8M401.2 510.1h1.8M409.8 506.8h1.8M413.4 510.1h1.8M408.0 505.0h1.8M418.9 500.9h1.8M412.9 507.6h1.8M401.6 507.3h1.8M413.7 511.2h1.8M407.2 511.8h1.8M410.5 505.8h1.8M417.7 500.4h1.8M414.4 507.5h1.8M407.4 510.3h1.8M407.9 505.7h1.8M410.8 509.2h1.8M405.0 505.2h1.8M408.9 506.6h1.8M416.4 503.5h1.8M416.4 504.8h1.8M410.4 503.3h1.8M410.5 511.7h1.8M413.2 509.5h1.8M407.2 503.8h1.8M406.6 507.0h1.8M412.8 509.4h1.8M401.8 508.7h1.8M417.5 506.5h1.8M402.0 503.6h1.8M401.2 502.3h1.8M418.1 507.3h1.8M413.3 509.5h1.8M417.9 507.3h1.8M412.5 507.5h1.8M414.0 507.2h1.8M413.7 502.6h1.8M413.4 505.5h1.8M415.2 501.2h1.8M404.5 500.4h1.8M415.4 511.0h1.8M413.2 504.4h1.8M416.3 509.4h1.8M411.5 503.1h1.8M406.7 505.1h1.8M407.0 505.2h1.8M413.0 511.2h1.8M402.1 506.8h1.8M401.8 501.4h1.8M416.1 506.9h1.8M418.1 505.4h1.8M401.4 504.6h1.8M412.1 511.3h1.8M419.2 505.7h1.8M408.7 501.2h1.8M413.0 502.5h1.8M403.9 500.2h1.8M401.2 508.2h1.8M403.4 511.6h1.8M402.7 510.4h1.8M403.5 500.2h1.8M284.7 520.8h1.8M283.9 512.6h1.8M292.7 520.6h1.8M293.9 520.8h1.8M282.4 519.5h1.8M303.0 523.2h1.8M299.9 523.6h1.8M306.9 512.1h1.8M296.3 519.8h1.8M308.4 513.0h1.8M300.8 520.8h1.8M324.0 517.8h1.8M312.0 516.4h1.8M319.7 517.3h1.8M321.3 513.7h1.8M323.1 516.4h1.8M320.8 519.6h1.8M317.4 516.6h1.8M322.9 523.3h1.8M322.9 518.8h1.8M315.5 512.7h1.8M336.6 521.9h1.8M331.1 519.3h1.8M340.8 522.0h1.8M335.1 515.7h1.8M332.5 522.7h1.8M331.8 520.2h1.8M335.1 522.8h1.8M338.2 515.4h1.8M326.1 515.2h1.8M332.4 519.0h1.8M338.3 522.6h1.8M326.7 522.0h1.8M338.3 522.4h1.8M345.2 522.2h1.8M353.2 520.2h1.8M354.8 516.2h1.8M342.4 518.6h1.8M353.1 514.4h1.8M352.4 523.2h1.8M344.6 519.3h1.8M351.3 517.6h1.8M344.2 515.1h1.8M352.4 521.5h1.8M348.0 513.1h1.8M353.2 521.3h1.8M344.6 519.0h1.8M354.6 522.6h1.8M348.9 517.7h1.8M349.9 514.3h1.8M344.0 514.2h1.8M351.6 516.4h1.8M349.6 516.8h1.8M348.9 513.8h1.8M341.8 524.0h1.8M346.7 513.3h1.8M367.9 513.9h1.8M365.1 516.1h1.8M363.9 512.2h1.8M356.6 523.9h1.8M369.1 517.8h1.8M364.6 515.1h1.8M367.8 517.1h1.8M370.3 521.2h1.8M368.4 523.6h1.8M359.9 512.5h1.8M359.1 514.2h1.8M357.4 512.6h1.8M364.5 522.4h1.8M363.0 523.4h1.8M369.7 512.8h1.8M365.1 516.8h1.8M357.9 523.5h1.8M360.0 518.8h1.8M365.7 523.5h1.8M366.1 516.7h1.8M362.8 513.9h1.8M370.6 523.9h1.8M359.4 512.5h1.8M359.9 516.2h1.8M369.6 522.9h1.8M368.7 512.6h1.8M367.9 520.5h1.8M365.8 523.8h1.8M356.9 513.7h1.8M367.4 523.3h1.8M366.3 515.6h1.8M365.0 521.1h1.8M357.7 515.9h1.8M360.0 513.5h1.8M363.3 514.0h1.8M359.7 513.7h1.8M366.3 512.2h1.8M366.9 514.3h1.8M356.6 523.1h1.8M385.1 522.4h1.8M384.4 513.7h1.8M377.8 513.2h1.8M385.0 522.1h1.8M380.5 517.4h1.8M376.2 521.9h1.8M378.3 519.5h1.8M373.2 514.7h1.8M372.0 520.6h1.8M379.4 513.7h1.8M384.2 515.2h1.8M377.3 513.9h1.8M375.2 522.1h1.8M376.1 514.0h1.8M378.5 515.8h1.8M384.6 513.4h1.8M385.8 512.7h1.8M384.5 520.0h1.8M374.3 517.7h1.8M375.4 515.1h1.8M374.1 516.4h1.8M386.0 524.0h1.8M385.0 513.2h1.8M375.4 522.8h1.8M372.0 520.7h1.8M375.5 523.7h1.8M371.3 521.7h1.8M376.2 513.7h1.8M371.1 522.0h1.8M379.0 514.2h1.8M377.6 522.9h1.8M374.4 518.9h1.8M373.2 514.2h1.8M382.7 520.5h1.8M374.1 513.0h1.8M372.4 519.3h1.8M378.5 515.3h1.8M374.2 519.3h1.8M381.7 521.7h1.8M379.8 514.4h1.8M372.1 520.8h1.8M377.2 520.7h1.8M371.9 521.7h1.8M376.1 522.1h1.8M384.1 517.9h1.8M371.3 522.9h1.8M378.2 522.5h1.8M375.1 514.2h1.8M383.6 516.4h1.8M373.6 516.5h1.8M380.0 512.1h1.8M378.9 517.3h1.8M378.8 513.4h1.8M381.8 521.8h1.8M384.1 515.9h1.8M381.8 516.6h1.8M382.4 512.7h1.8M384.2 523.4h1.8M378.5 518.2h1.8M379.1 518.4h1.8M371.4 523.6h1.8M374.5 514.2h1.8M372.6 515.0h1.8M383.4 512.4h1.8M372.5 520.4h1.8M374.0 512.2h1.8M380.1 518.9h1.8M396.6 513.2h1.8M399.1 520.6h1.8M386.8 513.5h1.8M393.5 518.0h1.8M390.3 513.5h1.8M392.2 513.6h1.8M395.0 522.3h1.8M388.3 518.9h1.8M397.3 514.0h1.8M398.5 523.3h1.8M391.9 517.0h1.8M398.7 518.3h1.8M392.0 523.3h1.8M397.8 516.1h1.8M389.7 516.0h1.8M392.6 523.8h1.8M398.2 523.0h1.8M398.3 522.2h1.8M386.9 518.2h1.8M400.5 523.2h1.8M389.8 517.1h1.8M395.6 516.4h1.8M394.1 512.8h1.8M392.6 518.1h1.8M386.4 513.7h1.8M400.6 521.3h1.8M400.2 519.6h1.8M398.2 522.6h1.8M399.4 512.4h1.8M395.7 515.2h1.8M396.3 515.3h1.8M394.2 523.1h1.8M395.4 515.0h1.8M393.9 517.2h1.8M400.4 515.5h1.8M390.7 519.8h1.8M387.9 519.1h1.8M400.4 518.2h1.8M390.1 517.6h1.8M394.1 513.8h1.8M388.0 513.6h1.8M390.5 516.9h1.8M390.4 514.9h1.8M387.4 518.6h1.8M398.7 519.3h1.8M394.7 519.8h1.8M389.1 520.5h1.8M393.0 518.6h1.8M395.3 517.6h1.8M390.8 514.9h1.8M389.4 518.1h1.8M391.8 519.0h1.8M386.3 516.2h1.8M399.0 514.9h1.8M394.4 517.9h1.8M390.4 523.9h1.8M390.5 521.3h1.8M388.5 512.8h1.8M399.2 517.3h1.8M387.0 516.7h1.8M392.7 520.8h1.8M387.7 514.7h1.8M400.5 520.9h1.8M388.4 516.0h1.8M391.4 520.1h1.8M395.3 522.2h1.8M398.4 518.2h1.8M397.2 520.9h1.8M397.5 517.7h1.8M397.9 520.5h1.8M399.8 513.5h1.8M399.2 512.1h1.8M397.6 519.0h1.8M393.6 523.6h1.8M394.7 517.0h1.8M397.9 522.5h1.8M395.2 516.6h1.8M392.9 517.5h1.8M396.9 515.5h1.8M411.4 516.6h1.8M407.1 521.4h1.8M416.8 518.0h1.8M409.3 514.2h1.8M406.7 513.7h1.8M411.7 519.0h1.8M402.7 523.0h1.8M407.1 522.1h1.8M416.6 523.5h1.8M404.9 517.1h1.8M417.9 512.1h1.8M402.0 518.8h1.8M410.3 523.0h1.8M415.4 518.5h1.8M419.6 518.2h1.8M410.7 520.2h1.8M408.3 516.3h1.8M412.1 516.2h1.8M418.6 520.1h1.8M410.8 513.2h1.8M408.0 516.8h1.8M411.5 518.9h1.8M417.4 523.6h1.8M410.1 517.3h1.8M412.7 524.0h1.8M407.5 518.4h1.8M416.2 514.0h1.8M407.0 523.7h1.8M416.4 518.2h1.8M403.1 522.7h1.8M413.9 521.8h1.8M419.4 522.7h1.8M408.9 513.9h1.8M406.5 518.1h1.8M410.4 514.3h1.8M404.5 519.6h1.8M412.3 516.2h1.8M419.5 519.6h1.8M401.9 516.9h1.8M415.7 515.7h1.8M413.9 512.0h1.8M406.7 522.1h1.8M411.9 520.0h1.8M404.7 518.0h1.8M411.3 515.2h1.8M413.1 518.4h1.8M419.5 518.9h1.8M408.7 513.5h1.8M404.0 521.1h1.8M403.1 513.2h1.8M404.3 518.3h1.8M416.3 519.4h1.8M416.0 512.7h1.8M401.3 521.2h1.8M407.1 520.6h1.8M407.6 514.0h1.8M406.0 513.2h1.8M417.8 519.0h1.8M407.6 517.4h1.8M408.2 512.7h1.8M417.6 519.0h1.8M418.9 517.3h1.8M412.6 515.0h1.8M401.9 523.2h1.8M416.9 515.8h1.8M417.7 521.8h1.8M406.7 519.2h1.8M418.9 517.9h1.8M418.7 514.9h1.8M408.3 520.6h1.8M405.2 515.7h1.8M417.3 517.8h1.8M415.8 514.9h1.8M404.3 516.3h1.8M404.6 523.7h1.8M406.5 518.7h1.8M403.2 518.4h1.8M408.2 516.8h1.8M402.3 513.5h1.8M416.4 516.2h1.8M405.6 514.3h1.8M406.3 514.8h1.8M401.7 520.0h1.8M407.4 513.9h1.8M414.2 513.1h1.8M406.1 522.0h1.8M403.5 517.3h1.8M416.6 521.7h1.8M404.0 516.2h1.8M414.5 516.5h1.8M418.8 514.5h1.8M418.7 518.1h1.8M405.3 517.4h1.8M403.5 520.5h1.8M405.9 522.8h1.8M412.0 516.4h1.8M405.7 519.3h1.8"/>
<path stroke="#e30613" d="M736.1 58.9h1.8M731.1 66.1h1.8M741.0 64.3h1.8M736.1 69.8h1.8M733.7 84.1h1.8M708.9 94.8h1.8M718.8 94.8h1.8M694.2 98.5h1.8M721.7 100.3h1.8M723.8 102.1h1.8M736.1 102.1h1.8M701.5 105.6h1.8M711.3 105.6h1.8M716.4 105.6h1.8M718.8 105.6h1.8M706.7 109.3h1.8M716.4 109.3h1.8M721.4 111.1h1.8M728.7 107.5h1.8M699.0 116.3h1.8M711.5 114.4h1.8M711.5 118.1h1.8M718.8 116.3h1.8M726.3 114.4h1.8M728.7 123.6h1.8M691.6 130.6h1.8M708.9 130.6h1.8M711.5 132.5h1.8M721.4 134.3h1.8M681.7 138.0h1.8M694.2 138.0h1.8M711.5 138.0h1.8M713.8 139.8h1.8M686.5 141.5h1.8M694.2 145.1h1.8M699.0 143.3h1.8M731.3 139.8h1.8M679.1 152.1h1.8M694.2 152.1h1.8M696.6 150.3h1.8M706.7 152.1h1.8M713.8 150.3h1.8M716.4 150.3h1.8M716.4 154.0h1.8M711.5 155.8h1.8M721.4 154.0h1.8M680.0 155.8h1.8M703.7 162.9h1.8M716.0 166.1h1.8M684.1 167.4h1.8M685.3 171.0h1.8M698.8 169.3h1.8M666.9 175.9h1.8M652.2 179.1h1.8M671.8 180.8h1.8M666.9 179.1h1.8M693.9 179.1h1.8M698.8 178.4h1.8M704.9 180.8h1.8M679.2 184.5h1.8M686.6 184.5h1.8M664.5 186.2h1.8M693.9 188.2h1.8M702.5 188.2h1.8M684.1 189.9h1.8M678.0 191.9h1.8M609.3 198.0h1.8M676.7 196.8h1.8M679.2 195.5h1.8M668.2 199.2h1.8M671.8 200.4h1.8M674.3 202.9h1.8M675.5 205.3h1.8M690.2 196.8h1.8M695.1 194.3h1.8M627.7 200.4h1.8M644.9 200.4h1.8M654.7 200.4h1.8M659.6 204.1h1.8M686.6 204.1h1.8M686.6 207.8h1.8M698.8 200.4h1.8M664.5 209.0h1.8M657.1 212.7h1.8M662.0 212.7h1.8M706.2 211.5h1.8M600.8 212.7h1.8M693.9 215.9h1.8M616.7 220.0h1.8M674.3 218.8h1.8M679.2 221.3h1.8M679.2 224.2h1.8M642.4 222.5h1.8M684.1 227.4h1.8M630.2 227.4h1.8M640.0 227.4h1.8M589.7 229.4h1.8M603.2 232.8h1.8M584.8 234.3h1.8M647.3 232.3h1.8M659.6 232.8h1.8M655.9 234.8h1.8M674.3 231.6h1.8M671.8 233.5h1.8M686.6 234.8h1.8M686.6 238.4h1.8M635.1 234.8h1.8M632.6 238.4h1.8M638.8 237.2h1.8M644.9 236.0h1.8M642.4 240.9h1.8M627.7 239.7h1.8M666.9 239.7h1.8M654.7 242.1h1.8M593.4 243.3h1.8M604.4 243.3h1.8M679.2 243.3h1.8M581.2 248.7h1.8M615.5 247.0h1.8M603.2 248.7h1.8M653.5 250.2h1.8M649.8 254.4h1.8M627.7 253.1h1.8M625.3 256.1h1.8M666.9 254.4h1.8M666.9 258.0h1.8M692.7 251.9h1.8M693.9 251.2h1.8M579.9 258.0h1.8M598.3 258.0h1.8M617.9 261.2h1.8M625.3 259.5h1.8M630.2 258.0h1.8M681.6 258.0h1.8M708.6 258.0h1.8M718.4 261.2h1.8M603.2 262.9h1.8M649.8 267.8h1.8M649.8 270.3h1.8M664.5 267.8h1.8M664.5 270.3h1.8M674.3 262.9h1.8M674.3 270.3h1.8M676.7 270.3h1.8M603.2 269.1h1.8M620.4 270.3h1.8M620.4 274.0h1.8M583.6 272.7h1.8M591.0 274.0h1.8M595.9 274.0h1.8M576.3 275.7h1.8M566.5 279.6h1.8M578.7 281.3h1.8M582.4 283.8h1.8M593.4 281.3h1.8M610.6 279.6h1.8M615.5 277.6h1.8M630.2 278.9h1.8M635.1 281.3h1.8M642.4 280.1h1.8M654.7 279.6h1.8M693.9 277.6h1.8M603.2 277.6h1.8M573.8 291.1h1.8M579.9 287.5h1.8M588.5 289.9h1.8M603.2 291.1h1.8M608.1 289.9h1.8M622.8 285.0h1.8M625.3 286.2h1.8M632.6 286.2h1.8M632.6 289.9h1.8M644.9 287.5h1.8M644.9 292.4h1.8M671.8 285.0h1.8M674.3 289.9h1.8M691.5 287.0h1.8M693.9 293.6h1.8M666.9 294.8h1.8M662.0 297.3h1.8M576.3 296.8h1.8M571.4 297.3h1.8M583.6 297.3h1.8M598.3 294.8h1.8M605.7 294.8h1.8M609.3 293.6h1.8M617.9 293.6h1.8M630.2 293.6h1.8M632.6 297.3h1.8M637.5 299.7h1.8M644.9 296.0h1.8M671.8 302.6h1.8M679.2 306.3h1.8M693.9 297.3h1.8M716.0 300.9h1.8M566.5 301.7h1.8M568.9 310.0h1.8M578.7 309.5h1.8M583.6 308.3h1.8M598.3 301.7h1.8M598.3 304.6h1.8M603.2 304.6h1.8M608.1 302.2h1.8M598.3 309.5h1.8M602.0 312.0h1.8M591.0 316.9h1.8M595.9 315.6h1.8M610.6 307.1h1.8M615.5 307.1h1.8M617.9 313.2h1.8M627.7 310.7h1.8M632.6 308.3h1.8M642.4 307.1h1.8M640.0 313.2h1.8M652.2 309.5h1.8M646.1 314.4h1.8M654.7 314.4h1.8M696.4 308.3h1.8M706.2 309.5h1.8M573.8 318.1h1.8M581.2 318.1h1.8M613.0 318.1h1.8M625.3 316.9h1.8M632.6 318.1h1.8M647.3 318.8h1.8M755.8 179.1h1.8M728.9 186.2h1.8M721.5 197.2h1.8M807.8 213.1h1.8M728.9 222.0h1.8M810.2 227.4h1.8M758.3 236.4h1.8M780.8 238.4h1.8M743.6 258.0h1.8M746.0 275.8h1.8M815.4 288.1h1.8M825.1 284.9h1.8M726.4 297.2h1.8M750.9 302.5h1.8M827.6 300.8h1.8M753.4 309.9h1.8M800.4 309.9h1.8M723.5 313.6h1.8M760.7 318.7h1.8M852.6 319.7h1.8M729.0 322.5h1.8M761.1 322.5h1.8M780.6 322.5h1.8M852.8 320.9h1.8M729.0 331.5h1.8M719.1 337.1h1.8M750.8 338.7h1.8M832.6 340.5h1.8M750.8 347.4h1.8M721.6 352.9h1.8M738.7 352.9h1.8M753.3 352.9h1.8M740.9 360.1h1.8M785.6 358.2h1.8M792.8 361.7h1.8M721.6 367.2h1.8M729.0 368.8h1.8M738.7 368.8h1.8M746.1 365.4h1.8M763.2 370.7h1.8M785.6 372.5h1.8M795.6 370.7h1.8M719.1 379.7h1.8M721.6 383.4h1.8M738.7 377.8h1.8M738.7 381.5h1.8M740.9 383.4h1.8M765.7 383.4h1.8M790.6 388.7h1.8M815.2 388.7h1.8M740.9 388.7h1.8M723.8 392.4h1.8M750.8 394.0h1.8M750.8 399.6h1.8M827.6 399.6h1.8M719.1 404.9h1.8M729.0 404.9h1.8M746.1 406.7h1.8M740.9 410.1h1.8M740.9 413.3h1.8M746.1 412.0h1.8M763.2 412.0h1.8M785.6 406.7h1.8M785.6 412.0h1.8M805.2 413.9h1.8M758.3 421.0h1.8M783.1 424.8h1.8M800.5 426.3h1.8M862.1 424.8h1.8M721.6 433.8h1.8M721.6 439.1h1.8M736.2 437.2h1.8M753.3 433.8h1.8M830.1 433.8h1.8M755.8 442.5h1.8M755.8 446.2h1.8M748.6 444.3h1.8M770.7 442.5h1.8M780.6 444.3h1.8M733.7 447.8h1.8M753.3 450.6h1.8M755.8 449.9h1.8M765.7 449.6h1.8M729.0 451.5h1.8M725.9 455.2h1.8M738.7 456.8h1.8M746.1 460.5h1.8M815.2 451.5h1.8M755.8 463.9h1.8M768.2 469.2h1.8M785.6 469.2h1.8M738.7 472.9h1.8M760.8 478.5h1.8M719.1 478.5h1.8M736.2 478.5h1.8M729.0 482.3h1.8M729.0 484.7h1.8M734.0 483.8h1.8M736.2 484.7h1.8M743.7 487.2h1.8M750.8 487.2h1.8M803.0 480.1h1.8M817.6 487.2h1.8M725.9 492.8h1.8M780.6 494.7h1.8M783.1 498.1h1.8M719.1 498.1h1.8M740.9 499.7h1.8M812.4 500.3h1.8M822.6 499.7h1.8M723.8 504.0h1.8M729.0 507.4h1.8M731.5 509.0h1.8M746.1 507.1h1.8M760.8 508.7h1.8M770.7 508.7h1.8M785.6 510.6h1.8M731.5 514.3h1.8M738.7 514.3h1.8M740.9 512.7h1.8M746.1 514.9h1.8M755.8 517.7h1.8M725.9 517.7h1.8M793.1 514.3h1.8M798.1 516.1h1.8M642.2 320.8h1.8M654.4 320.8h1.8M669.4 324.3h1.8M659.5 327.7h1.8M654.4 331.5h1.8M701.2 327.7h1.8M676.8 333.3h1.8M718.0 336.6h1.8M691.5 338.7h1.8M698.9 338.7h1.8M708.8 338.7h1.8M639.9 342.2h1.8M652.1 344.1h1.8M694.0 345.6h1.8M639.9 347.6h1.8M639.9 350.7h1.8M649.5 349.4h1.8M713.9 351.1h1.8M689.1 353.0h1.8M698.9 354.9h1.8M644.6 356.5h1.8M676.8 356.5h1.8M694.0 358.3h1.8M691.5 360.2h1.8M698.9 360.2h1.8M708.8 361.7h1.8M663.6 361.7h1.8M665.9 363.2h1.8M667.5 364.4h1.8M644.6 365.5h1.8M659.5 365.5h1.8M681.7 365.5h1.8M652.1 370.6h1.8M696.6 370.9h1.8M657.2 374.1h1.8M652.1 376.4h1.8M662.1 376.4h1.8M684.3 374.4h1.8M689.1 376.4h1.8M666.7 379.8h1.8M669.4 379.8h1.8M676.8 379.8h1.8M706.5 379.8h1.8M718.0 379.8h1.8M654.4 383.3h1.8M669.4 385.4h1.8M662.1 387.0h1.8M662.1 390.8h1.8M679.3 387.0h1.8M684.3 389.0h1.8M676.8 390.8h1.8M679.3 390.8h1.8M649.5 390.5h1.8M691.5 390.8h1.8M701.9 392.0h1.8M704.2 390.5h1.8M718.0 387.0h1.8M654.4 398.2h1.8M654.4 402.8h1.8M659.5 401.2h1.8M679.3 397.9h1.8M684.3 395.9h1.8M689.1 401.2h1.8M691.5 402.8h1.8M694.0 403.5h1.8M642.2 404.8h1.8M718.0 404.8h1.8M649.5 410.4h1.8M639.1 412.0h1.8M642.2 412.0h1.8M642.2 415.0h1.8M639.1 416.6h1.8M644.6 418.1h1.8M648.3 418.1h1.8M657.2 415.8h1.8M664.4 413.9h1.8M671.7 413.9h1.8M666.7 417.3h1.8M681.7 410.4h1.8M684.3 412.0h1.8M686.6 413.5h1.8M689.1 413.5h1.8M694.0 415.8h1.8M708.8 412.0h1.8M684.3 418.1h1.8M580.9 322.5h1.8M574.6 330.9h1.8M570.3 335.4h1.8M572.3 333.2h1.8M575.5 326.2h1.8M572.4 321.7h1.8M568.7 337.0h1.8M571.2 333.3h1.8M567.5 331.2h1.8M571.9 330.0h1.8M570.8 321.3h1.8M571.0 324.5h1.8M567.8 334.3h1.8M570.5 328.1h1.8M581.5 335.5h1.8M581.0 337.2h1.8M567.9 325.5h1.8M566.1 333.6h1.8M577.2 327.0h1.8M572.8 333.2h1.8M577.8 325.0h1.8M580.4 327.0h1.8M576.6 323.6h1.8M567.6 338.3h1.8M578.4 334.3h1.8M566.3 320.8h1.8M568.4 324.0h1.8M570.9 327.6h1.8M566.3 326.2h1.8M576.8 323.6h1.8M580.3 331.4h1.8M578.1 325.1h1.8M573.2 333.7h1.8M571.7 320.0h1.8M580.2 335.5h1.8M583.9 337.1h1.8M594.6 320.9h1.8M587.7 322.2h1.8M598.1 324.2h1.8M600.5 335.0h1.8M584.7 333.9h1.8M590.6 335.0h1.8M598.8 325.6h1.8M584.8 338.9h1.8M591.2 338.6h1.8M596.2 334.8h1.8M598.9 332.6h1.8M591.7 321.1h1.8M596.4 328.6h1.8M592.8 338.6h1.8M585.5 335.2h1.8M583.9 334.1h1.8M598.4 325.2h1.8M593.5 339.4h1.8M613.0 325.0h1.8M603.3 327.2h1.8M610.3 324.0h1.8M608.3 322.7h1.8M616.2 333.4h1.8M606.9 324.8h1.8M612.4 328.9h1.8M620.8 327.0h1.8M608.1 337.7h1.8M604.9 331.3h1.8M608.8 336.3h1.8M613.1 335.2h1.8M633.4 332.0h1.8M629.9 335.3h1.8M636.2 322.3h1.8M627.0 327.2h1.8M625.6 321.2h1.8M626.9 323.9h1.8M634.0 329.0h1.8M571.3 349.4h1.8M572.0 343.4h1.8M566.9 340.2h1.8M583.0 355.0h1.8M567.1 354.3h1.8M582.8 351.3h1.8M567.5 349.8h1.8M573.2 343.8h1.8M575.1 340.2h1.8M581.7 352.9h1.8M576.6 358.7h1.8M577.0 345.0h1.8M569.9 342.8h1.8M566.1 355.5h1.8M580.3 345.9h1.8M568.9 352.8h1.8M580.4 358.5h1.8M568.5 355.7h1.8M580.1 354.8h1.8M571.3 343.7h1.8M580.0 346.4h1.8M572.0 351.0h1.8M572.1 356.6h1.8M569.8 340.8h1.8M575.5 352.6h1.8M579.9 354.1h1.8M581.4 358.9h1.8M574.3 350.0h1.8M568.4 346.0h1.8M575.8 341.6h1.8M577.6 343.3h1.8M573.4 359.4h1.8M567.2 340.8h1.8M573.3 343.8h1.8M578.3 340.1h1.8M580.3 357.1h1.8M579.4 348.5h1.8M570.6 353.2h1.8M574.6 348.4h1.8M571.5 348.8h1.8M577.3 356.5h1.8M586.2 345.9h1.8M591.5 351.3h1.8M589.7 343.9h1.8M584.7 346.5h1.8M591.8 359.4h1.8M600.4 357.3h1.8M601.6 359.2h1.8M594.9 356.2h1.8M584.2 353.5h1.8M594.7 345.9h1.8M594.0 359.1h1.8M592.2 352.9h1.8M588.8 346.9h1.8M599.9 340.6h1.8M586.7 353.6h1.8M591.6 341.7h1.8M595.6 347.4h1.8M594.1 348.3h1.8M593.2 351.3h1.8M590.6 342.3h1.8M586.5 357.8h1.8M593.5 342.2h1.8M599.5 345.1h1.8M584.9 350.6h1.8M587.9 349.8h1.8M606.6 351.5h1.8M604.4 350.3h1.8M613.9 341.6h1.8M610.3 341.5h1.8M610.9 357.3h1.8M613.1 354.3h1.8M617.2 342.3h1.8M621.9 354.4h1.8M604.1 356.6h1.8M609.9 343.4h1.8M621.3 351.3h1.8M617.6 342.7h1.8M617.6 341.2h1.8M606.8 347.4h1.8M632.2 344.3h1.8M627.2 354.1h1.8M629.3 357.8h1.8M632.7 357.4h1.8M631.7 358.4h1.8M636.9 343.4h1.8M571.6 375.3h1.8M577.5 376.5h1.8M567.7 367.5h1.8M578.5 379.0h1.8M578.2 360.9h1.8M576.2 362.0h1.8M575.2 376.1h1.8M567.6 378.5h1.8M577.4 365.1h1.8M569.0 368.9h1.8M580.3 371.6h1.8M567.6 360.4h1.8M567.5 376.0h1.8M568.8 371.1h1.8M570.7 373.7h1.8M572.3 362.9h1.8M580.9 370.8h1.8M577.7 376.2h1.8M582.2 360.3h1.8M571.6 363.0h1.8M574.4 377.5h1.8M579.6 360.7h1.8M568.8 376.4h1.8M577.5 367.9h1.8M573.9 363.2h1.8M580.4 367.9h1.8M580.9 372.2h1.8M566.9 366.6h1.8M569.4 377.9h1.8M575.9 360.9h1.8M568.6 367.2h1.8M573.8 371.5h1.8M572.4 367.1h1.8M565.7 371.6h1.8M571.4 360.4h1.8M573.6 379.7h1.8M566.4 362.9h1.8M577.3 365.5h1.8M570.4 370.0h1.8M570.2 371.4h1.8M574.8 379.1h1.8M583.0 360.7h1.8M575.4 375.4h1.8M580.9 375.5h1.8M576.7 372.7h1.8M572.0 365.6h1.8M579.5 377.5h1.8M582.0 373.6h1.8M570.9 375.3h1.8M578.5 370.2h1.8M589.8 371.0h1.8M590.8 361.2h1.8M589.5 366.5h1.8M601.9 369.6h1.8M590.1 364.9h1.8M587.6 367.0h1.8M585.7 360.1h1.8M599.6 369.1h1.8M591.6 371.4h1.8M588.8 363.4h1.8M584.4 366.0h1.8M589.0 374.5h1.8M593.6 378.7h1.8M589.6 378.4h1.8M594.2 361.6h1.8M586.5 371.6h1.8M601.9 367.1h1.8M597.8 368.6h1.8M599.6 361.4h1.8M592.3 378.0h1.8M588.3 365.2h1.8M583.5 363.3h1.8M588.2 374.1h1.8M587.2 368.0h1.8M586.9 372.1h1.8M599.5 373.0h1.8M586.8 374.7h1.8M601.4 372.0h1.8M584.6 376.2h1.8M608.9 362.7h1.8M605.9 370.7h1.8M619.6 372.8h1.8M620.6 364.2h1.8M608.6 375.0h1.8M615.1 368.1h1.8M615.7 366.8h1.8M603.2 368.3h1.8M603.0 372.5h1.8M608.8 369.9h1.8M614.1 365.1h1.8M611.4 360.3h1.8M620.6 371.3h1.8M623.1 372.3h1.8M634.4 366.6h1.8M623.7 363.1h1.8M624.5 375.3h1.8M623.6 376.3h1.8M575.0 391.8h1.8M575.3 393.1h1.8M576.1 386.6h1.8M578.6 385.2h1.8M578.0 395.3h1.8M579.2 386.2h1.8M579.1 399.5h1.8M573.5 385.6h1.8M574.8 398.8h1.8M567.9 380.2h1.8M573.9 393.1h1.8M579.1 387.2h1.8M582.9 384.6h1.8M578.8 381.8h1.8M566.1 382.7h1.8M566.7 390.0h1.8M575.3 383.6h1.8M582.0 387.3h1.8M568.2 383.5h1.8M578.5 398.4h1.8M568.4 380.6h1.8M579.2 384.9h1.8M582.8 390.0h1.8M576.7 386.9h1.8M579.6 389.2h1.8M571.3 398.1h1.8M567.5 394.7h1.8M566.7 392.9h1.8M572.6 397.3h1.8M566.6 391.3h1.8M572.8 398.4h1.8M582.1 392.5h1.8M569.5 385.0h1.8M570.2 388.7h1.8M569.6 384.1h1.8M578.9 392.9h1.8M570.8 399.9h1.8M569.4 391.4h1.8M568.3 397.3h1.8M580.8 385.3h1.8M578.8 396.5h1.8M570.5 386.6h1.8M574.1 397.8h1.8M568.4 393.7h1.8M576.1 389.1h1.8M575.7 397.7h1.8M569.3 397.7h1.8M571.9 395.6h1.8M580.7 383.6h1.8M580.7 399.9h1.8M570.8 380.5h1.8M567.6 399.5h1.8M565.8 398.2h1.8M568.2 394.7h1.8M567.3 383.4h1.8M577.5 381.8h1.8M571.5 398.4h1.8M578.1 397.6h1.8M582.7 380.7h1.8M569.7 395.8h1.8M577.7 380.8h1.8M574.4 384.6h1.8M573.1 382.1h1.8M601.9 386.3h1.8M599.8 382.4h1.8M592.4 382.7h1.8M591.2 383.6h1.8M596.1 383.0h1.8M597.1 390.0h1.8M585.2 387.1h1.8M592.5 398.4h1.8M589.7 384.3h1.8M601.5 397.7h1.8M597.0 385.5h1.8M586.5 385.3h1.8M584.4 380.9h1.8M592.8 388.2h1.8M593.7 387.3h1.8M583.3 393.8h1.8M595.5 390.9h1.8M593.5 393.8h1.8M601.8 397.5h1.8M596.7 388.0h1.8M589.1 388.4h1.8M601.6 387.7h1.8M590.4 388.2h1.8M585.8 400.0h1.8M583.2 392.2h1.8M600.7 385.1h1.8M594.7 387.5h1.8M587.7 384.0h1.8M585.3 396.9h1.8M598.0 398.2h1.8M584.0 393.9h1.8M589.3 392.9h1.8M593.5 386.3h1.8M601.6 380.0h1.8M619.2 390.2h1.8M613.9 399.9h1.8M606.8 392.6h1.8M617.0 387.6h1.8M616.3 387.9h1.8M612.6 392.3h1.8M615.6 386.4h1.8M614.7 390.9h1.8M606.6 392.3h1.8M607.4 398.2h1.8M611.6 394.4h1.8M612.5 389.5h1.8M606.5 382.8h1.8M620.6 390.6h1.8M612.6 390.5h1.8M618.4 384.8h1.8M636.1 389.2h1.8M633.0 396.5h1.8M637.3 397.4h1.8M622.8 387.6h1.8M636.2 396.4h1.8M624.2 383.1h1.8M626.4 382.1h1.8M628.2 396.1h1.8M573.5 401.8h1.8M572.5 419.9h1.8M577.8 409.0h1.8M574.0 416.0h1.8M578.9 403.0h1.8M577.5 407.3h1.8M574.7 404.8h1.8M572.1 406.8h1.8M572.3 400.4h1.8M569.1 411.4h1.8M566.6 403.6h1.8M578.2 405.5h1.8M571.3 404.8h1.8M580.2 401.8h1.8M576.7 417.2h1.8M569.1 408.5h1.8M579.5 412.4h1.8M572.1 400.9h1.8M573.3 407.3h1.8M578.1 405.9h1.8M572.7 413.0h1.8M579.8 407.0h1.8M572.3 411.6h1.8M581.8 403.8h1.8M582.6 414.2h1.8M572.1 413.3h1.8M571.4 401.4h1.8M578.8 407.6h1.8M574.8 409.9h1.8M581.4 415.1h1.8M566.0 411.9h1.8M573.7 409.2h1.8M580.3 408.3h1.8M573.9 417.8h1.8M573.3 409.8h1.8M574.6 416.5h1.8M577.3 414.8h1.8M572.6 400.8h1.8M577.5 411.1h1.8M579.1 415.4h1.8M567.7 404.4h1.8M566.9 416.3h1.8M567.4 401.8h1.8M578.8 411.3h1.8M566.6 413.6h1.8M578.0 409.7h1.8M566.6 413.8h1.8M572.9 411.7h1.8M583.1 416.3h1.8M580.9 402.9h1.8M571.5 410.4h1.8M565.7 419.8h1.8M570.4 405.2h1.8M571.1 405.1h1.8M580.6 411.1h1.8M574.5 408.4h1.8M566.5 406.1h1.8M580.8 416.0h1.8M580.6 405.1h1.8M569.1 401.0h1.8M575.0 407.5h1.8M573.7 409.8h1.8M575.8 407.3h1.8M579.6 404.0h1.8M581.7 411.1h1.8M566.5 406.3h1.8M574.9 408.2h1.8M575.5 406.5h1.8M570.4 415.9h1.8M570.7 414.2h1.8M579.6 411.8h1.8M573.6 418.7h1.8M573.4 417.6h1.8M566.6 408.7h1.8M576.8 401.0h1.8M580.7 401.4h1.8M576.0 403.6h1.8M593.8 416.0h1.8M592.6 413.5h1.8M595.9 405.9h1.8M587.1 416.8h1.8M585.9 418.4h1.8M587.0 402.0h1.8M584.9 415.7h1.8M601.2 408.3h1.8M595.6 405.2h1.8M600.3 413.7h1.8M586.0 401.1h1.8M596.3 400.8h1.8M599.0 405.9h1.8M587.5 411.6h1.8M589.2 411.2h1.8M586.0 418.2h1.8M589.3 416.8h1.8M586.0 416.0h1.8M601.7 407.8h1.8M583.7 407.6h1.8M595.3 404.5h1.8M593.5 401.9h1.8M591.9 414.6h1.8M591.3 413.6h1.8M585.3 416.6h1.8M585.4 418.5h1.8M602.0 418.8h1.8M593.1 405.8h1.8M589.7 415.0h1.8M592.5 418.6h1.8M584.9 409.7h1.8M599.5 412.0h1.8M593.4 401.8h1.8M585.8 405.4h1.8M600.1 416.9h1.8M587.4 418.5h1.8M583.7 412.0h1.8M601.5 406.9h1.8M601.0 413.1h1.8M584.1 406.7h1.8M591.6 404.9h1.8M597.2 403.6h1.8M598.1 406.0h1.8M613.3 401.9h1.8M613.1 415.8h1.8M614.0 409.2h1.8M602.8 410.3h1.8M604.0 412.9h1.8M604.7 411.6h1.8M609.2 407.5h1.8M615.4 403.3h1.8M605.5 418.8h1.8M608.7 416.8h1.8M619.6 409.6h1.8M605.1 401.9h1.8M619.7 402.3h1.8M612.0 410.7h1.8M604.5 409.4h1.8M605.4 410.7h1.8M612.2 407.3h1.8M606.1 408.1h1.8M606.2 402.5h1.8M606.9 417.4h1.8M612.1 417.8h1.8M602.4 418.9h1.8M611.9 415.8h1.8M613.5 413.8h1.8M606.7 415.0h1.8M605.2 405.3h1.8M602.7 407.9h1.8M627.1 417.8h1.8M623.5 411.6h1.8M626.1 411.9h1.8M635.4 414.2h1.8M623.2 404.9h1.8M632.3 419.7h1.8M622.8 412.4h1.8M633.9 416.3h1.8M627.9 416.2h1.8M630.0 418.4h1.8M622.3 418.8h1.8M629.1 408.1h1.8M623.6 404.9h1.8M634.6 413.6h1.8M571.6 422.8h1.8M569.1 424.4h1.8M571.4 439.5h1.8M583.1 435.8h1.8M574.0 429.9h1.8M579.2 438.2h1.8M578.8 432.7h1.8M569.1 432.5h1.8M580.4 435.7h1.8M567.2 434.3h1.8M571.7 423.2h1.8M582.5 433.5h1.8M578.6 422.7h1.8M580.1 438.7h1.8M581.4 434.9h1.8M580.2 436.0h1.8M575.9 428.7h1.8M580.0 435.7h1.8M580.8 426.0h1.8M582.4 430.6h1.8M582.2 422.3h1.8M582.5 435.7h1.8M570.0 436.8h1.8M569.7 424.0h1.8M573.6 424.7h1.8M574.2 438.2h1.8M577.6 434.2h1.8M572.5 435.7h1.8M579.5 433.7h1.8M582.1 436.5h1.8M572.7 421.7h1.8M577.0 436.7h1.8M571.5 431.9h1.8M580.2 435.9h1.8M565.7 429.8h1.8M565.9 422.2h1.8M579.8 428.4h1.8M576.2 429.1h1.8M571.5 424.3h1.8M571.8 436.9h1.8M576.4 425.8h1.8M567.1 425.4h1.8M577.9 428.8h1.8M577.2 436.1h1.8M567.7 433.7h1.8M566.3 436.5h1.8M568.8 425.4h1.8M582.4 427.2h1.8M569.5 437.8h1.8M576.3 437.9h1.8M572.5 430.0h1.8M582.3 430.1h1.8M582.9 423.8h1.8M580.1 423.2h1.8M574.8 420.0h1.8M568.7 438.9h1.8M573.6 436.2h1.8M570.0 427.0h1.8M567.4 431.1h1.8M580.7 430.3h1.8M572.2 438.6h1.8M581.2 433.3h1.8M566.9 432.5h1.8M573.4 439.2h1.8M571.9 433.2h1.8M576.7 427.5h1.8M574.7 433.5h1.8M581.5 430.0h1.8M572.0 439.5h1.8M566.6 436.7h1.8M577.6 431.1h1.8M573.4 435.0h1.8M581.2 434.6h1.8M578.7 420.7h1.8M571.3 422.7h1.8M582.3 437.8h1.8M568.1 431.8h1.8M575.7 420.9h1.8M572.5 434.9h1.8M576.8 425.6h1.8M578.9 425.8h1.8M575.1 428.4h1.8M582.7 433.0h1.8M579.7 433.5h1.8M572.3 439.3h1.8M596.2 425.5h1.8M586.2 431.5h1.8M598.8 435.9h1.8M589.7 422.8h1.8M592.9 437.5h1.8M586.2 434.8h1.8M586.3 426.2h1.8M584.1 426.0h1.8M590.4 439.3h1.8M601.4 423.7h1.8M589.0 438.9h1.8M586.8 426.4h1.8M591.4 422.2h1.8M588.0 427.9h1.8M590.4 439.3h1.8M588.2 424.1h1.8M600.4 429.0h1.8M599.0 432.7h1.8M597.9 426.3h1.8M586.0 435.1h1.8M592.0 431.2h1.8M595.8 435.1h1.8M588.3 427.3h1.8M600.5 430.6h1.8M588.6 432.6h1.8M588.0 435.4h1.8M583.9 436.5h1.8M593.9 427.1h1.8M601.0 425.3h1.8M587.7 421.4h1.8M593.5 435.1h1.8M596.0 428.3h1.8M598.4 422.2h1.8M588.9 432.9h1.8M601.5 432.7h1.8M596.2 435.5h1.8M590.6 438.8h1.8M597.2 426.8h1.8M590.6 436.1h1.8M589.7 423.7h1.8M599.7 430.6h1.8M593.0 433.4h1.8M600.2 422.7h1.8M589.5 421.3h1.8M591.0 430.0h1.8M599.3 433.4h1.8M594.1 428.1h1.8M594.0 425.5h1.8M599.2 435.8h1.8M599.0 423.0h1.8M617.2 430.0h1.8M620.1 438.0h1.8M617.0 436.4h1.8M615.1 437.6h1.8M604.7 434.1h1.8M616.2 432.2h1.8M607.6 421.3h1.8M614.2 436.5h1.8M607.6 424.3h1.8M606.6 421.9h1.8M615.6 439.5h1.8M618.1 427.2h1.8M616.1 421.4h1.8M618.9 426.5h1.8M602.2 432.6h1.8M604.9 425.5h1.8M603.3 428.9h1.8M613.2 436.1h1.8M602.9 436.5h1.8M604.3 424.5h1.8M614.7 426.8h1.8M608.7 431.4h1.8M606.5 435.9h1.8M606.3 436.8h1.8M618.3 430.7h1.8M602.7 435.6h1.8M602.7 430.1h1.8M610.6 421.3h1.8M614.7 434.5h1.8M613.8 428.0h1.8M612.3 431.8h1.8M606.6 437.4h1.8M622.0 436.1h1.8M621.3 426.6h1.8M621.8 421.4h1.8M624.4 429.1h1.8M633.7 434.2h1.8M629.8 426.8h1.8M625.3 428.1h1.8M626.9 423.9h1.8M634.6 430.3h1.8M629.6 424.0h1.8M634.1 423.9h1.8M626.6 431.2h1.8M634.0 439.5h1.8M634.8 439.0h1.8M637.7 434.5h1.8M634.3 421.3h1.8M625.6 420.3h1.8M636.8 434.4h1.8M632.8 425.3h1.8M628.1 423.3h1.8M632.8 439.8h1.8M627.3 420.9h1.8M646.2 438.0h1.8M655.2 429.1h1.8M641.1 422.1h1.8M642.2 435.5h1.8M648.5 439.8h1.8M657.3 435.9h1.8M648.6 436.4h1.8M641.7 422.2h1.8M650.4 430.2h1.8M643.3 425.0h1.8M639.5 438.2h1.8M653.3 438.9h1.8M658.7 428.7h1.8M653.7 427.7h1.8M655.3 436.8h1.8M641.8 420.3h1.8M643.4 431.7h1.8M659.3 436.6h1.8M674.8 429.3h1.8M660.0 437.8h1.8M669.8 421.4h1.8M665.6 432.5h1.8M676.8 429.7h1.8M671.9 424.1h1.8M664.0 438.1h1.8M666.8 422.1h1.8M681.6 424.0h1.8M688.2 431.7h1.8M691.8 434.1h1.8M687.9 421.4h1.8M693.6 421.1h1.8M688.5 428.0h1.8M713.4 424.8h1.8M712.1 433.8h1.8M708.5 422.8h1.8M717.3 432.0h1.8M700.4 424.8h1.8M569.6 447.8h1.8M579.4 456.5h1.8M576.7 454.8h1.8M566.3 441.9h1.8M582.7 456.1h1.8M566.3 441.0h1.8M569.8 458.6h1.8M569.4 453.4h1.8M581.9 452.8h1.8M581.7 445.3h1.8M568.3 440.4h1.8M578.8 442.1h1.8M582.6 454.2h1.8M568.9 456.1h1.8M568.4 450.2h1.8M567.5 455.7h1.8M581.2 458.3h1.8M565.6 457.0h1.8M575.3 456.4h1.8M574.4 452.4h1.8M576.0 456.0h1.8M567.0 441.1h1.8M575.1 445.8h1.8M572.5 440.2h1.8M578.6 440.5h1.8M580.1 456.2h1.8M573.6 442.4h1.8M577.0 444.1h1.8M573.1 442.2h1.8M582.7 450.9h1.8M571.8 441.9h1.8M578.4 457.0h1.8M580.4 442.0h1.8M572.0 446.1h1.8M578.9 443.0h1.8M576.2 459.6h1.8M579.1 440.1h1.8M566.9 442.3h1.8M577.7 452.0h1.8M574.7 449.1h1.8M572.7 452.2h1.8M577.0 458.3h1.8M578.4 455.9h1.8M581.6 456.7h1.8M578.1 440.6h1.8M577.5 457.0h1.8M573.1 457.6h1.8M568.7 458.9h1.8M573.3 454.1h1.8M570.0 446.0h1.8M571.7 446.5h1.8M567.3 448.9h1.8M582.8 453.1h1.8M581.9 455.2h1.8M580.2 459.9h1.8M578.8 445.5h1.8M570.0 448.2h1.8M566.0 444.6h1.8M581.1 458.4h1.8M571.4 455.4h1.8M579.2 457.8h1.8M579.5 450.6h1.8M567.4 456.5h1.8M571.1 452.5h1.8M572.0 450.7h1.8M582.5 443.2h1.8M574.9 453.0h1.8M575.0 458.8h1.8M572.7 458.3h1.8M577.7 459.3h1.8M567.2 444.2h1.8M570.6 458.1h1.8M565.8 445.2h1.8M578.1 459.8h1.8M568.7 448.8h1.8M577.6 453.8h1.8M578.7 455.1h1.8M569.9 445.1h1.8M566.1 453.8h1.8M569.3 445.2h1.8M582.5 452.9h1.8M575.9 453.1h1.8M576.1 453.9h1.8M570.9 441.3h1.8M566.8 440.3h1.8M571.9 442.8h1.8M567.6 449.9h1.8M582.6 453.8h1.8M597.7 443.6h1.8M585.0 446.1h1.8M590.9 453.8h1.8M591.6 454.6h1.8M584.9 458.6h1.8M589.6 456.6h1.8M583.7 456.6h1.8M587.4 457.1h1.8M598.4 453.4h1.8M588.4 440.2h1.8M586.7 458.1h1.8M586.1 453.2h1.8M594.3 453.2h1.8M586.5 442.9h1.8M584.9 459.7h1.8M590.4 453.0h1.8M593.9 444.5h1.8M584.3 440.3h1.8M599.3 442.6h1.8M601.4 447.3h1.8M596.8 442.8h1.8M598.1 445.0h1.8M590.1 450.5h1.8M585.2 445.0h1.8M598.2 445.7h1.8M590.3 455.3h1.8M587.4 443.9h1.8M587.3 447.7h1.8M590.0 452.8h1.8M592.1 457.4h1.8M584.1 453.3h1.8M599.0 444.7h1.8M583.7 448.8h1.8M585.3 449.2h1.8M596.6 441.9h1.8M585.3 449.6h1.8M586.4 444.6h1.8M591.5 442.4h1.8M584.4 447.2h1.8M592.0 458.7h1.8M593.6 441.4h1.8M587.3 454.9h1.8M593.8 457.4h1.8M601.4 457.2h1.8M585.2 458.9h1.8M593.1 444.8h1.8M586.3 457.3h1.8M587.1 441.7h1.8M588.1 458.5h1.8M591.9 454.6h1.8M584.5 449.1h1.8M589.1 444.1h1.8M595.7 447.2h1.8M585.4 459.7h1.8M592.3 443.6h1.8M583.3 453.1h1.8M592.9 440.5h1.8M592.0 454.8h1.8M606.8 450.0h1.8M614.2 453.0h1.8M605.0 456.1h1.8M621.0 454.8h1.8M619.2 447.4h1.8M620.2 443.6h1.8M606.6 452.0h1.8M620.1 441.6h1.8M606.4 440.7h1.8M610.9 442.8h1.8M605.9 455.0h1.8M613.8 458.8h1.8M610.1 453.6h1.8M602.4 459.0h1.8M606.8 449.5h1.8M612.3 459.0h1.8M611.9 459.8h1.8M614.5 444.3h1.8M618.8 444.0h1.8M622.1 449.1h1.8M606.6 459.2h1.8M608.5 448.1h1.8M609.0 453.4h1.8M602.6 447.5h1.8M605.3 456.6h1.8M602.1 452.2h1.8M607.3 449.1h1.8M613.3 454.2h1.8M604.9 444.8h1.8M604.5 459.2h1.8M605.1 442.7h1.8M612.5 451.6h1.8M619.8 441.1h1.8M606.8 443.4h1.8M613.8 449.0h1.8M610.3 457.8h1.8M615.3 457.2h1.8M621.2 445.4h1.8M620.9 448.2h1.8M603.1 458.3h1.8M622.4 445.8h1.8M627.0 459.3h1.8M636.9 448.4h1.8M631.1 457.0h1.8M635.8 453.1h1.8M630.8 442.3h1.8M626.2 453.2h1.8M632.1 456.0h1.8M637.4 459.2h1.8M625.4 441.5h1.8M637.4 451.4h1.8M625.2 453.8h1.8M626.4 444.7h1.8M628.3 450.5h1.8M633.6 441.5h1.8M634.7 452.5h1.8M630.1 453.4h1.8M635.7 440.2h1.8M630.2 453.6h1.8M634.2 453.0h1.8M625.2 459.2h1.8M635.5 444.7h1.8M629.4 459.2h1.8M647.3 459.2h1.8M657.1 444.6h1.8M653.8 447.2h1.8M652.4 455.3h1.8M641.7 444.5h1.8M643.4 445.3h1.8M639.8 442.7h1.8M647.2 448.4h1.8M640.7 451.6h1.8M657.9 451.5h1.8M646.2 454.1h1.8M647.8 443.5h1.8M648.7 440.4h1.8M652.6 443.2h1.8M646.5 459.2h1.8M654.4 456.7h1.8M651.9 452.7h1.8M678.4 443.9h1.8M674.4 446.0h1.8M664.2 456.4h1.8M671.1 457.0h1.8M676.6 451.8h1.8M663.1 440.3h1.8M669.8 454.5h1.8M680.5 440.1h1.8M682.6 453.9h1.8M679.2 444.6h1.8M684.4 454.2h1.8M698.8 440.4h1.8M681.4 458.7h1.8M702.1 446.7h1.8M709.5 446.4h1.8M707.4 449.6h1.8M704.3 441.1h1.8M568.4 461.8h1.8M576.5 473.9h1.8M570.2 475.8h1.8M578.4 466.8h1.8M574.2 463.8h1.8M581.9 471.2h1.8M566.5 463.1h1.8M577.7 467.7h1.8M578.1 464.6h1.8M579.6 476.0h1.8M567.2 471.7h1.8M568.9 474.2h1.8M579.7 475.8h1.8M569.6 461.9h1.8M577.2 471.3h1.8M568.0 463.9h1.8M575.8 462.2h1.8M576.7 464.8h1.8M570.1 468.5h1.8M574.9 474.5h1.8M566.1 474.5h1.8M569.5 465.8h1.8M576.8 473.8h1.8M576.4 478.0h1.8M569.2 466.2h1.8M577.2 465.2h1.8M568.4 464.5h1.8M579.1 476.5h1.8M578.1 479.2h1.8M579.5 466.2h1.8M571.1 474.4h1.8M566.6 472.2h1.8M567.2 461.0h1.8M574.6 463.0h1.8M581.9 477.5h1.8M573.7 464.0h1.8M567.7 470.1h1.8M574.7 467.3h1.8M578.1 470.6h1.8M579.2 462.1h1.8M566.8 467.7h1.8M574.1 465.1h1.8M577.3 464.4h1.8M571.2 469.5h1.8M578.1 475.4h1.8M572.1 468.9h1.8M581.8 478.7h1.8M576.4 462.1h1.8M573.6 472.7h1.8M570.5 460.7h1.8M582.8 478.2h1.8M567.9 469.3h1.8M576.4 466.0h1.8M566.8 475.0h1.8M579.1 468.7h1.8M567.1 467.9h1.8M567.2 479.3h1.8M566.5 465.8h1.8M579.0 462.7h1.8M567.5 461.4h1.8M568.5 470.6h1.8M580.2 463.4h1.8M568.6 475.3h1.8M573.1 466.8h1.8M567.8 464.9h1.8M582.6 462.3h1.8M570.1 474.8h1.8M581.2 478.1h1.8M573.9 479.1h1.8M576.2 465.8h1.8M573.7 474.3h1.8M578.4 462.6h1.8M569.0 479.2h1.8M567.5 476.3h1.8M571.5 465.0h1.8M570.1 469.4h1.8M582.9 463.0h1.8M580.6 466.4h1.8M568.6 474.9h1.8M571.6 463.8h1.8M572.9 476.4h1.8M580.7 471.5h1.8M565.8 475.3h1.8M576.2 478.0h1.8M582.3 466.5h1.8M580.4 476.4h1.8M570.3 467.3h1.8M572.2 467.1h1.8M572.2 462.2h1.8M569.6 478.2h1.8M572.8 472.7h1.8M581.1 475.1h1.8M569.9 478.4h1.8M579.7 479.8h1.8M578.3 475.1h1.8M579.8 465.1h1.8M577.1 467.6h1.8M580.3 462.7h1.8M575.0 466.7h1.8M580.0 466.9h1.8M599.2 477.6h1.8M585.7 478.8h1.8M597.2 473.5h1.8M595.5 461.0h1.8M599.6 471.0h1.8M591.8 466.8h1.8M598.0 475.6h1.8M599.6 464.3h1.8M589.6 465.0h1.8M585.0 466.5h1.8M583.6 475.9h1.8M587.4 461.4h1.8M584.4 474.8h1.8M586.9 469.2h1.8M590.7 476.0h1.8M601.2 466.2h1.8M595.1 477.9h1.8M592.0 478.0h1.8M597.0 466.2h1.8M599.7 471.5h1.8M585.1 471.7h1.8M598.9 470.4h1.8M592.3 468.3h1.8M599.8 473.3h1.8M587.1 467.2h1.8M590.0 479.2h1.8M596.3 462.5h1.8M600.5 460.7h1.8M594.3 468.6h1.8M596.7 468.6h1.8M584.9 470.5h1.8M598.7 475.8h1.8M589.9 464.4h1.8M597.3 476.0h1.8M587.3 477.7h1.8M602.0 468.7h1.8M590.3 474.2h1.8M600.8 464.0h1.8M588.8 466.6h1.8M597.0 463.7h1.8M593.5 470.0h1.8M595.8 462.9h1.8M601.3 480.0h1.8M593.8 475.9h1.8M586.6 478.2h1.8M593.6 475.2h1.8M599.6 467.2h1.8M600.7 464.1h1.8M583.5 470.0h1.8M600.2 478.0h1.8M601.2 470.2h1.8M600.8 471.2h1.8M585.8 472.6h1.8M598.4 468.5h1.8M594.5 465.2h1.8M588.3 468.4h1.8M592.9 469.4h1.8M584.9 460.1h1.8M589.6 474.3h1.8M597.3 464.7h1.8M588.0 470.3h1.8M586.4 472.1h1.8M606.1 471.7h1.8M616.5 475.0h1.8M616.3 474.2h1.8M607.6 476.8h1.8M620.6 461.1h1.8M621.0 468.9h1.8M603.8 461.4h1.8M618.0 473.6h1.8M604.9 469.2h1.8M614.9 480.0h1.8M608.8 475.3h1.8M607.0 464.0h1.8M605.3 468.2h1.8M614.5 466.1h1.8M605.3 464.4h1.8M603.8 463.9h1.8M608.4 470.1h1.8M605.8 469.6h1.8M610.9 479.5h1.8M611.8 478.9h1.8M611.5 464.0h1.8M613.9 462.9h1.8M605.5 461.5h1.8M616.1 479.3h1.8M610.2 467.1h1.8M610.6 467.0h1.8M615.9 467.8h1.8M605.1 477.3h1.8M613.6 460.1h1.8M619.1 474.6h1.8M609.2 472.6h1.8M620.5 468.0h1.8M610.8 466.0h1.8M613.2 473.3h1.8M616.8 479.0h1.8M605.0 467.3h1.8M619.1 475.8h1.8M613.9 473.5h1.8M608.9 478.9h1.8M613.1 468.1h1.8M605.7 462.3h1.8M620.1 476.0h1.8M602.6 466.5h1.8M611.7 469.9h1.8M609.4 477.9h1.8M631.1 478.6h1.8M633.0 469.5h1.8M627.8 467.7h1.8M632.5 475.7h1.8M626.5 467.4h1.8M628.7 467.3h1.8M637.6 470.8h1.8M626.8 466.6h1.8M636.1 463.2h1.8M633.8 460.4h1.8M625.4 461.2h1.8M635.8 462.9h1.8M626.0 461.2h1.8M626.6 474.7h1.8M634.3 478.2h1.8M638.2 471.0h1.8M637.8 461.8h1.8M637.8 468.7h1.8M625.4 475.0h1.8M636.7 467.7h1.8M623.7 477.5h1.8M634.9 471.9h1.8M638.7 460.8h1.8M623.1 462.5h1.8M622.5 474.2h1.8M632.8 462.2h1.8M642.7 472.2h1.8M652.5 479.4h1.8M646.3 479.6h1.8M647.8 467.8h1.8M644.2 464.7h1.8M658.6 479.9h1.8M653.2 463.5h1.8M642.7 463.0h1.8M646.1 474.7h1.8M640.3 470.6h1.8M652.7 460.7h1.8M647.9 475.8h1.8M650.6 469.0h1.8M656.7 472.0h1.8M645.8 467.9h1.8M658.0 477.2h1.8M657.4 471.2h1.8M662.6 467.7h1.8M672.9 460.1h1.8M675.1 475.7h1.8M669.4 460.1h1.8M675.1 468.3h1.8M672.5 471.4h1.8M673.7 468.2h1.8M678.3 479.1h1.8M677.7 472.3h1.8M686.6 465.4h1.8M697.2 475.8h1.8M694.9 476.4h1.8M698.9 473.8h1.8M685.5 475.2h1.8M684.3 472.2h1.8M682.3 477.2h1.8M688.9 465.5h1.8M700.8 478.6h1.8M714.2 463.0h1.8M714.3 471.5h1.8M717.2 471.7h1.8M707.6 478.7h1.8M579.2 482.1h1.8M570.4 482.3h1.8M580.8 488.8h1.8M578.3 485.1h1.8M578.4 493.0h1.8M567.3 489.9h1.8M578.2 484.3h1.8M577.1 485.6h1.8M572.1 498.4h1.8M582.1 500.0h1.8M573.1 491.4h1.8M579.7 495.2h1.8M573.6 497.3h1.8M572.6 499.0h1.8M573.9 482.4h1.8M578.7 482.9h1.8M577.5 481.1h1.8M582.9 490.8h1.8M578.6 482.6h1.8M576.7 487.5h1.8M570.0 496.3h1.8M566.2 489.6h1.8M567.1 497.0h1.8M581.2 480.7h1.8M573.7 489.4h1.8M578.2 494.6h1.8M571.6 498.7h1.8M568.8 482.7h1.8M579.9 482.4h1.8M568.9 490.0h1.8M571.5 483.3h1.8M581.9 489.5h1.8M579.4 485.0h1.8M581.6 484.4h1.8M581.5 492.3h1.8M582.6 495.4h1.8M576.6 490.7h1.8M580.6 488.9h1.8M567.3 498.3h1.8M579.7 493.6h1.8M578.6 484.6h1.8M573.7 496.5h1.8M582.4 498.5h1.8M568.4 493.7h1.8M575.3 488.1h1.8M568.5 482.7h1.8M573.8 489.9h1.8M570.3 487.4h1.8M575.3 495.2h1.8M575.9 483.2h1.8M581.1 487.4h1.8M582.4 499.6h1.8M568.1 491.6h1.8M582.5 487.7h1.8M575.2 486.3h1.8M566.1 484.1h1.8M567.8 485.7h1.8M576.6 491.3h1.8M582.2 493.7h1.8M571.9 499.0h1.8M576.7 490.9h1.8M580.7 493.4h1.8M571.9 492.1h1.8M570.9 499.4h1.8M569.9 499.5h1.8M566.7 480.2h1.8M575.3 484.1h1.8M574.5 482.4h1.8M580.2 493.4h1.8M577.6 498.5h1.8M583.0 493.6h1.8M578.1 480.0h1.8M566.5 488.5h1.8M582.6 486.3h1.8M575.5 480.2h1.8M572.9 498.1h1.8M575.9 496.5h1.8M565.8 484.1h1.8M568.7 496.6h1.8M567.4 498.6h1.8M570.3 497.6h1.8M574.6 486.5h1.8M582.5 488.1h1.8M577.8 481.3h1.8M580.1 499.6h1.8M567.5 494.9h1.8M570.3 483.0h1.8M572.0 493.2h1.8M582.3 499.9h1.8M583.0 492.5h1.8M577.0 483.2h1.8M578.3 491.0h1.8M571.9 498.0h1.8M570.1 482.8h1.8M568.4 483.0h1.8M575.9 496.0h1.8M568.4 490.1h1.8M575.7 491.2h1.8M572.8 490.9h1.8M565.9 481.2h1.8M573.0 484.7h1.8M578.8 484.8h1.8M580.0 484.8h1.8M567.2 489.5h1.8M572.4 486.7h1.8M579.0 484.4h1.8M577.3 496.7h1.8M573.5 490.1h1.8M594.6 483.6h1.8M584.4 481.6h1.8M589.4 481.8h1.8M595.4 488.5h1.8M589.0 490.2h1.8M600.9 484.9h1.8M586.0 486.1h1.8M589.3 498.2h1.8M596.5 488.6h1.8M586.3 480.9h1.8M585.4 496.9h1.8M595.4 483.1h1.8M595.0 481.2h1.8M592.7 486.7h1.8M585.0 494.8h1.8M596.7 490.2h1.8M586.3 493.4h1.8M591.3 493.2h1.8M584.8 498.1h1.8M583.2 484.5h1.8M590.7 484.0h1.8M584.8 493.7h1.8M602.0 486.7h1.8M588.2 493.4h1.8M587.3 488.0h1.8M596.2 488.6h1.8M586.1 481.4h1.8M593.4 499.8h1.8M600.6 482.0h1.8M592.6 489.8h1.8M586.8 493.4h1.8M592.5 496.2h1.8M588.6 498.7h1.8M598.6 489.5h1.8M585.8 489.7h1.8M585.5 493.7h1.8M596.4 491.6h1.8M601.6 480.9h1.8M596.7 496.0h1.8M585.2 486.4h1.8M584.1 491.7h1.8M596.8 487.0h1.8M596.3 487.3h1.8M596.6 485.5h1.8M601.7 488.8h1.8M583.2 481.8h1.8M596.9 497.3h1.8M595.2 483.1h1.8M599.7 494.3h1.8M585.3 487.6h1.8M595.9 480.1h1.8M583.9 487.1h1.8M599.7 499.9h1.8M589.1 498.2h1.8M598.0 497.3h1.8M594.3 499.4h1.8M595.3 499.0h1.8M593.9 483.9h1.8M593.0 489.7h1.8M589.5 487.5h1.8M592.8 491.8h1.8M587.3 485.5h1.8M592.7 490.1h1.8M591.1 493.3h1.8M586.6 490.6h1.8M588.3 495.4h1.8M596.5 495.6h1.8M592.9 485.0h1.8M612.3 487.5h1.8M607.9 488.0h1.8M616.3 496.4h1.8M611.8 494.6h1.8M606.4 489.0h1.8M609.3 486.1h1.8M609.3 495.1h1.8M616.8 484.1h1.8M606.8 495.7h1.8M615.2 493.5h1.8M614.8 493.9h1.8M607.6 481.2h1.8M609.3 480.6h1.8M621.3 490.5h1.8M615.5 499.3h1.8M618.2 484.6h1.8M608.8 482.2h1.8M618.0 494.7h1.8M611.9 487.4h1.8M607.5 489.7h1.8M616.3 497.9h1.8M619.1 497.4h1.8M610.9 488.4h1.8M608.4 499.5h1.8M605.8 483.2h1.8M607.7 498.4h1.8M619.2 486.6h1.8M619.1 497.8h1.8M610.6 483.8h1.8M617.6 487.5h1.8M604.5 498.1h1.8M610.9 487.9h1.8M614.0 485.1h1.8M602.5 487.8h1.8M609.7 480.2h1.8M609.5 495.2h1.8M608.8 493.6h1.8M614.6 483.8h1.8M602.5 493.5h1.8M614.3 485.9h1.8M606.1 497.1h1.8M620.3 484.7h1.8M613.8 491.5h1.8M608.5 480.7h1.8M608.6 492.9h1.8M614.1 490.2h1.8M604.5 484.3h1.8M608.3 488.3h1.8M609.4 498.0h1.8M604.4 499.7h1.8M606.9 497.1h1.8M607.0 491.7h1.8M622.7 495.9h1.8M635.9 485.4h1.8M635.3 489.6h1.8M638.9 481.1h1.8M628.6 484.6h1.8M632.7 495.6h1.8M636.4 491.0h1.8M628.7 496.0h1.8M623.9 485.2h1.8M634.9 488.8h1.8M639.0 481.8h1.8M630.0 484.3h1.8M622.1 481.9h1.8M623.6 487.4h1.8M629.5 490.2h1.8M627.0 494.0h1.8M630.9 499.6h1.8M625.0 490.2h1.8M630.5 487.4h1.8M636.7 484.2h1.8M637.0 487.2h1.8M627.8 492.3h1.8M631.7 485.7h1.8M623.5 499.1h1.8M628.4 482.3h1.8M633.3 490.6h1.8M627.7 486.6h1.8M636.5 486.8h1.8M629.2 499.1h1.8M628.2 488.0h1.8M652.3 493.3h1.8M648.0 488.1h1.8M643.8 495.8h1.8M648.2 496.6h1.8M646.6 494.7h1.8M639.7 484.4h1.8M658.3 493.6h1.8M652.6 489.9h1.8M648.5 484.0h1.8M642.6 492.9h1.8M653.0 485.2h1.8M652.0 482.7h1.8M651.4 483.4h1.8M649.3 486.3h1.8M650.1 482.7h1.8M648.8 492.3h1.8M641.8 486.2h1.8M652.7 490.9h1.8M651.4 495.6h1.8M650.5 484.4h1.8M648.0 496.6h1.8M650.4 495.1h1.8M646.4 489.0h1.8M675.5 493.1h1.8M661.2 492.2h1.8M659.8 498.7h1.8M678.5 494.6h1.8M664.5 496.9h1.8M662.6 496.6h1.8M669.5 480.3h1.8M676.9 488.8h1.8M675.7 493.8h1.8M669.8 497.2h1.8M663.2 498.0h1.8M665.9 480.5h1.8M665.8 481.3h1.8M691.6 482.4h1.8M682.3 485.9h1.8M684.7 498.4h1.8M697.2 497.4h1.8M698.9 488.8h1.8M695.0 485.6h1.8M697.6 496.2h1.8M693.7 484.6h1.8M680.9 498.5h1.8M690.1 492.2h1.8M696.3 482.9h1.8M708.4 495.7h1.8M708.2 483.9h1.8M718.2 485.6h1.8M714.0 496.6h1.8M704.1 493.9h1.8M707.0 484.5h1.8M703.4 499.1h1.8M574.5 512.0h1.8M566.1 518.1h1.8M578.6 521.0h1.8M571.8 505.0h1.8M571.7 517.6h1.8M577.1 509.7h1.8M574.8 503.7h1.8M581.7 511.3h1.8M574.5 518.9h1.8M569.1 517.3h1.8M571.8 519.5h1.8M567.3 506.6h1.8M576.7 511.6h1.8M572.2 513.9h1.8M569.4 510.5h1.8M565.6 519.2h1.8M570.0 519.9h1.8M575.3 514.4h1.8M576.6 503.0h1.8M579.2 507.0h1.8M580.7 518.9h1.8M577.5 519.6h1.8M573.2 516.2h1.8M582.3 504.5h1.8M567.4 509.9h1.8M574.5 503.6h1.8M569.5 520.8h1.8M572.4 503.6h1.8M568.8 513.9h1.8M568.9 511.4h1.8M575.0 510.6h1.8M574.4 520.1h1.8M565.9 522.3h1.8M569.1 500.9h1.8M579.0 513.7h1.8M575.0 505.2h1.8M579.3 507.4h1.8M578.3 505.5h1.8M575.6 515.6h1.8M572.1 511.5h1.8M566.7 515.4h1.8M577.7 503.7h1.8M575.2 517.6h1.8M567.4 520.1h1.8M580.8 501.2h1.8M569.9 502.0h1.8M570.0 502.1h1.8M574.2 506.0h1.8M570.9 511.1h1.8M572.1 518.9h1.8M578.2 502.7h1.8M569.5 500.2h1.8M571.4 502.6h1.8M577.8 518.7h1.8M583.0 505.0h1.8M566.2 518.2h1.8M572.8 522.3h1.8M572.5 507.5h1.8M566.9 522.7h1.8M574.6 510.6h1.8M573.2 518.4h1.8M580.1 511.4h1.8M568.7 509.8h1.8M581.2 509.8h1.8M577.2 513.4h1.8M573.7 513.8h1.8M569.9 513.4h1.8M580.7 501.9h1.8M572.1 521.1h1.8M582.7 500.3h1.8M576.6 515.2h1.8M580.4 511.3h1.8M567.9 507.2h1.8M578.1 517.5h1.8M569.2 515.4h1.8M577.1 515.8h1.8M566.0 510.6h1.8M571.3 514.3h1.8M571.5 503.1h1.8M577.3 506.9h1.8M579.4 507.3h1.8M575.2 519.4h1.8M567.6 517.5h1.8M566.8 522.5h1.8M566.0 517.4h1.8M572.1 504.3h1.8M572.5 512.0h1.8M572.9 502.9h1.8M574.7 507.2h1.8M582.5 509.2h1.8M573.2 505.5h1.8M582.6 507.7h1.8M576.9 520.0h1.8M572.5 518.1h1.8M570.5 502.6h1.8M566.3 510.8h1.8M580.9 504.9h1.8M573.3 518.3h1.8M570.4 503.7h1.8M574.7 510.2h1.8M582.0 521.5h1.8M569.8 513.5h1.8M572.9 500.8h1.8M573.4 522.0h1.8M570.9 514.1h1.8M578.0 501.5h1.8M581.8 502.6h1.8M570.9 517.2h1.8M565.9 509.0h1.8M567.8 511.4h1.8M565.9 503.6h1.8M569.5 502.0h1.8M567.2 504.7h1.8M574.7 503.3h1.8M580.0 510.0h1.8M570.0 505.8h1.8M580.3 501.1h1.8M578.6 502.3h1.8M582.1 509.8h1.8M576.1 520.7h1.8M567.4 501.5h1.8M577.7 514.1h1.8M578.2 506.7h1.8M574.3 504.5h1.8M573.2 506.8h1.8M575.8 507.2h1.8M570.4 515.4h1.8M567.1 519.2h1.8M574.3 505.5h1.8M567.6 512.2h1.8M574.4 517.3h1.8M572.1 509.9h1.8M581.2 506.6h1.8M582.8 521.4h1.8M582.9 522.6h1.8M570.1 519.5h1.8M576.3 504.9h1.8M583.1 515.5h1.8M579.8 513.4h1.8M567.0 520.7h1.8M588.0 514.8h1.8M586.8 511.1h1.8M596.7 502.3h1.8M595.7 502.5h1.8M592.1 515.6h1.8M596.2 501.0h1.8M586.7 523.0h1.8M590.5 510.2h1.8M590.2 516.7h1.8M597.2 515.6h1.8M590.7 513.7h1.8M592.9 504.5h1.8M601.1 523.2h1.8M597.9 523.8h1.8M591.9 520.1h1.8M587.7 517.8h1.8M596.7 522.5h1.8M598.9 521.1h1.8M588.2 518.9h1.8M592.1 507.5h1.8M590.1 519.2h1.8M599.1 520.3h1.8M595.8 504.1h1.8M586.1 513.6h1.8M587.1 508.1h1.8M585.0 503.7h1.8M596.7 505.4h1.8M599.2 507.9h1.8M599.2 507.3h1.8M588.2 509.5h1.8M583.3 510.5h1.8M590.3 500.3h1.8M599.5 509.0h1.8M583.1 523.0h1.8M587.4 506.1h1.8M583.6 502.4h1.8M596.6 514.0h1.8M592.7 505.9h1.8M588.5 523.3h1.8M590.2 523.7h1.8M599.9 503.0h1.8M599.2 500.5h1.8M596.6 519.4h1.8M596.3 513.2h1.8M598.5 503.7h1.8M593.4 506.4h1.8M590.7 504.6h1.8M596.6 513.8h1.8M597.9 515.1h1.8M594.5 522.1h1.8M598.5 513.6h1.8M589.3 522.3h1.8M590.2 502.5h1.8M589.4 517.0h1.8M600.8 515.5h1.8M595.7 522.5h1.8M597.9 510.7h1.8M591.9 518.2h1.8M589.1 502.6h1.8M594.9 519.4h1.8M587.8 516.4h1.8M600.1 503.1h1.8M585.7 511.8h1.8M589.5 522.8h1.8M602.0 510.7h1.8M598.2 515.2h1.8M586.4 523.3h1.8M586.4 501.8h1.8M591.7 500.4h1.8M592.2 509.9h1.8M601.2 509.9h1.8M599.2 518.7h1.8M594.2 505.7h1.8M588.9 511.8h1.8M590.6 515.5h1.8M592.7 507.8h1.8M594.6 523.9h1.8M586.9 508.1h1.8M583.3 502.3h1.8M584.2 510.1h1.8M599.0 516.7h1.8M601.5 520.1h1.8M594.2 513.9h1.8M583.3 509.2h1.8M588.1 514.9h1.8M584.3 513.0h1.8M590.2 511.8h1.8M590.8 502.5h1.8M597.0 519.2h1.8M594.5 502.8h1.8M594.5 520.9h1.8M601.8 518.2h1.8M584.0 521.1h1.8M595.7 506.6h1.8M600.6 519.8h1.8M600.1 505.9h1.8M594.1 509.1h1.8M588.7 518.3h1.8M594.8 508.0h1.8M593.4 522.3h1.8M620.4 513.6h1.8M621.9 500.7h1.8M611.3 513.3h1.8M616.6 523.2h1.8M614.6 511.5h1.8M614.8 512.8h1.8M616.2 522.7h1.8M602.4 507.7h1.8M619.6 501.4h1.8M617.9 500.7h1.8M615.1 519.2h1.8M606.9 509.1h1.8M606.6 516.9h1.8M612.7 514.5h1.8M608.6 514.1h1.8M621.2 518.7h1.8M621.1 505.9h1.8M612.4 509.3h1.8M609.0 519.3h1.8M605.6 513.4h1.8M617.6 522.5h1.8M602.5 506.5h1.8M612.0 522.5h1.8M605.4 520.2h1.8M610.0 513.1h1.8M620.7 501.5h1.8M608.7 503.7h1.8M604.8 507.3h1.8M616.1 513.9h1.8M604.5 519.2h1.8M612.2 503.4h1.8M618.5 519.7h1.8M606.4 522.5h1.8M618.3 505.5h1.8M602.1 520.8h1.8M618.6 502.3h1.8M617.4 518.6h1.8M614.8 520.0h1.8M621.8 507.9h1.8M618.8 522.1h1.8M608.4 516.4h1.8M615.8 520.4h1.8M613.4 506.6h1.8M607.1 513.0h1.8M604.8 520.6h1.8M619.9 505.8h1.8M616.0 516.2h1.8M604.5 518.7h1.8M617.4 507.4h1.8M604.1 506.8h1.8M617.5 511.2h1.8M618.4 503.8h1.8M604.2 508.4h1.8M619.7 503.9h1.8M603.6 518.1h1.8M603.9 516.0h1.8M603.8 505.9h1.8M615.4 521.0h1.8M610.3 510.8h1.8M602.7 508.2h1.8M606.9 518.9h1.8M616.4 518.8h1.8M612.7 516.8h1.8M604.6 509.2h1.8M608.0 506.8h1.8M616.9 505.1h1.8M608.6 506.8h1.8M619.4 515.3h1.8M611.7 509.1h1.8M620.5 522.5h1.8M611.1 513.6h1.8M619.4 506.2h1.8M607.3 502.5h1.8M612.1 518.4h1.8M629.5 523.8h1.8M630.3 509.2h1.8M636.4 521.4h1.8M628.5 503.0h1.8M632.9 517.8h1.8M637.8 515.8h1.8M627.3 512.4h1.8M627.0 510.7h1.8M630.1 521.9h1.8M637.5 522.2h1.8M630.2 523.1h1.8M624.5 522.1h1.8M633.0 520.9h1.8M629.1 523.8h1.8M622.5 520.3h1.8M636.0 509.0h1.8M636.2 505.1h1.8M634.9 511.2h1.8M629.1 504.7h1.8M635.7 517.5h1.8M623.6 523.5h1.8M625.9 509.0h1.8M629.1 513.8h1.8M637.2 522.7h1.8M632.9 508.8h1.8M623.9 501.7h1.8M630.9 514.0h1.8M629.7 523.6h1.8M629.1 508.4h1.8M629.2 504.1h1.8M638.1 514.2h1.8M631.3 510.2h1.8M626.4 507.6h1.8M630.5 510.7h1.8M638.7 513.5h1.8M625.6 501.3h1.8M624.8 508.3h1.8M635.4 521.3h1.8M626.1 518.7h1.8M629.6 512.9h1.8M631.2 501.0h1.8M652.5 516.5h1.8M646.7 522.1h1.8M655.5 507.2h1.8M640.4 513.3h1.8M652.2 505.4h1.8M640.0 511.7h1.8M639.8 517.7h1.8M651.6 506.7h1.8M648.0 505.6h1.8M642.8 504.4h1.8M655.4 510.9h1.8M653.4 508.3h1.8M655.2 514.3h1.8M652.2 509.4h1.8M650.3 504.6h1.8M658.6 516.1h1.8M649.7 515.3h1.8M641.1 508.0h1.8M643.7 520.2h1.8M639.4 510.7h1.8M656.5 518.8h1.8M653.5 507.2h1.8M643.7 516.9h1.8M645.1 517.4h1.8M646.1 518.3h1.8M650.6 519.6h1.8M658.8 509.1h1.8M658.8 500.2h1.8M656.6 500.7h1.8M650.0 509.3h1.8M654.5 507.6h1.8M643.3 518.8h1.8M674.2 511.7h1.8M659.8 518.5h1.8M663.5 511.3h1.8M659.1 506.2h1.8M672.4 518.3h1.8M671.8 510.6h1.8M673.8 516.1h1.8M663.2 512.8h1.8M671.1 517.5h1.8M663.1 507.5h1.8M666.0 502.3h1.8M666.1 517.5h1.8M670.7 504.2h1.8M673.7 502.8h1.8M674.1 503.5h1.8M661.0 506.0h1.8M669.4 506.5h1.8M676.8 522.5h1.8M694.1 516.7h1.8M690.3 506.1h1.8M698.1 523.0h1.8M679.4 507.9h1.8M685.5 504.8h1.8M687.7 521.6h1.8M679.6 520.1h1.8M685.3 500.3h1.8M697.1 506.5h1.8M683.3 502.8h1.8M686.4 502.9h1.8M682.7 506.0h1.8M690.7 510.7h1.8M709.6 518.6h1.8M713.6 508.2h1.8M717.5 519.0h1.8M710.3 511.4h1.8M705.7 503.2h1.8M716.8 514.6h1.8M701.1 522.2h1.8M716.8 500.8h1.8M713.1 505.7h1.8M578.5 295.3h1.8M573.3 300.0h1.8M568.6 299.4h1.8M572.2 304.7h1.8M568.5 300.7h1.8M586.0 291.8h1.8M583.8 297.9h1.8M584.2 301.9h1.8M575.3 317.9h1.8M567.6 308.3h1.8M577.5 312.1h1.8M580.0 310.1h1.8M571.8 319.4h1.8M570.9 319.5h1.8M579.4 308.0h1.8M574.1 319.1h1.8M567.4 317.7h1.8M577.6 316.2h1.8M582.9 319.4h1.8M582.9 316.8h1.8M594.1 309.8h1.8M593.4 311.2h1.8M594.6 305.7h1.8M597.9 310.8h1.8"/>
</g>
<line x1="123" y1="523.3" x2="870" y2="523.3" stroke="#14148c" stroke-width="2.5" stroke-dasharray="4.9 9.93" stroke-linecap="round"/><line x1="420.8" y1="19.4" x2="420.8" y2="549" stroke="#14148c" stroke-width="3.6" stroke-dasharray="0 1.9 0 8.85" stroke-linecap="round"/><line x1="420.8" y1="19.4" x2="420.8" y2="549" stroke="#2333b0" stroke-width="3.6" stroke-dasharray="0 1.9 0 8.85" stroke-linecap="round" clip-path="url(#c420)"/><clipPath id="c420"><rect x="417.8" y="487.4" width="6" height="64.60000000000002"/></clipPath><line x1="561.5" y1="19.4" x2="561.5" y2="549" stroke="#14148c" stroke-width="3.6" stroke-dasharray="0 1.9 0 8.85" stroke-linecap="round"/><line x1="561.5" y1="19.4" x2="561.5" y2="549" stroke="#2333b0" stroke-width="3.6" stroke-dasharray="0 1.9 0 8.85" stroke-linecap="round" clip-path="url(#c561)"/><clipPath id="c561"><rect x="558.5" y="380.0" width="6" height="172.0"/></clipPath>
<line x1="121.3" y1="13" x2="121.3" y2="553.9" stroke="#000" stroke-width="2.6"/><line x1="120" y1="552.7" x2="863.8" y2="552.7" stroke="#000" stroke-width="2.8"/><line x1="121" y1="14.4" x2="133.8" y2="14.4" stroke="#000" stroke-width="2.7"/><line x1="121" y1="120.9" x2="133.8" y2="120.9" stroke="#000" stroke-width="2.7"/><line x1="121" y1="228.1" x2="133.8" y2="228.1" stroke="#000" stroke-width="2.7"/><line x1="121" y1="338.4" x2="133.8" y2="338.4" stroke="#000" stroke-width="2.7"/><line x1="121" y1="445.8" x2="133.8" y2="445.8" stroke="#000" stroke-width="2.7"/><line x1="245.2" y1="542.2" x2="245.2" y2="553" stroke="#000" stroke-width="2.6"/><line x1="369.2" y1="542.2" x2="369.2" y2="553" stroke="#000" stroke-width="2.6"/><line x1="493" y1="542.4" x2="493" y2="553" stroke="#000" stroke-width="2.6"/><line x1="615.4" y1="542.2" x2="615.4" y2="553" stroke="#000" stroke-width="2.6"/><line x1="739.5" y1="542.2" x2="739.5" y2="553" stroke="#000" stroke-width="2.6"/><line x1="862.4" y1="540.7" x2="862.4" y2="553" stroke="#000" stroke-width="2.6"/>
<text x="116.5" y="28.5" text-anchor="end" font-family="'Liberation Serif', 'Noto Serif CJK SC', serif" font-size="34">24.75</text><text x="116.5" y="135.3" text-anchor="end" font-family="'Liberation Serif', 'Noto Serif CJK SC', serif" font-size="34">19.70</text><text x="116.5" y="241.4" text-anchor="end" font-family="'Liberation Serif', 'Noto Serif CJK SC', serif" font-size="34">14.85</text><text x="116.5" y="348.5" text-anchor="end" font-family="'Liberation Serif', 'Noto Serif CJK SC', serif" font-size="34">9.90</text><text x="116.5" y="454.6" text-anchor="end" font-family="'Liberation Serif', 'Noto Serif CJK SC', serif" font-size="34">4.95</text><text x="116.5" y="560.7" text-anchor="end" font-family="'Liberation Serif', 'Noto Serif CJK SC', serif" font-size="34">0</text><text x="76.8" y="588" font-family="'Liberation Serif', 'Noto Serif CJK SC', serif" font-size="34" letter-spacing="0">&#x2013;5.20</text><text x="195.4" y="588" font-family="'Liberation Serif', 'Noto Serif CJK SC', serif" font-size="34" letter-spacing="-0.5">&#x2013;3.47</text><text x="321.3" y="588" font-family="'Liberation Serif', 'Noto Serif CJK SC', serif" font-size="34" letter-spacing="-0.3">&#x2013;1.73</text><text x="486.7" y="588" font-family="'Liberation Serif', 'Noto Serif CJK SC', serif" font-size="34" letter-spacing="0">0</text><text x="586" y="588" font-family="'Liberation Serif', 'Noto Serif CJK SC', serif" font-size="34" letter-spacing="-1.3">1.73</text><text x="706.3" y="588" font-family="'Liberation Serif', 'Noto Serif CJK SC', serif" font-size="34" letter-spacing="-0.3">3.47</text><text x="817" y="588" font-family="'Liberation Serif', 'Noto Serif CJK SC', serif" font-size="34" letter-spacing="-0.3">5.20</text><text x="430" y="636" font-family="'Liberation Serif', 'Noto Serif CJK SC', serif" font-size="36">&#x2013;<tspan dx="0.6">log</tspan><tspan font-size="21" dy="11">2</tspan><tspan dy="-11">(FC)</tspan></text><text transform="translate(27.6,355) rotate(-90)" x="0" y="0" font-family="'Liberation Serif', 'Noto Serif CJK SC', serif" font-size="32">&#x2013;log<tspan font-size="18" dx="1.5" dy="11">10</tspan><tspan dy="-11" dx="1.5" letter-spacing="1">(<tspan font-style="italic">P</tspan>值)</tspan></text>
</svg></body></html>
